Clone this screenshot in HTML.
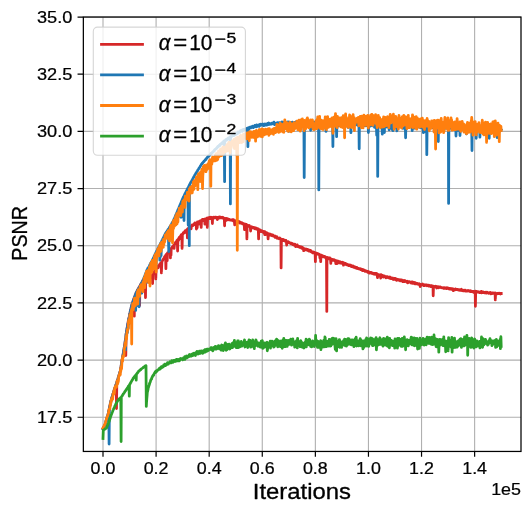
<!DOCTYPE html>
<html><head><meta charset="utf-8"><title>PSNR vs Iterations</title>
<style>html,body{margin:0;padding:0;background:#fff;}svg{will-change:transform;opacity:0.999;}body{width:532px;height:515px;overflow:hidden;font-family:"Liberation Sans",sans-serif;}svg text{font-family:"Liberation Sans",sans-serif;fill:#000;stroke:#000;stroke-width:0.3px;stroke-linejoin:round;}svg text.tk{stroke-width:0.22px;}</style></head>
<body>
<svg width="532" height="515" viewBox="0 0 532 515" style="display:block;font-family:'Liberation Sans',sans-serif">
<rect x="0" y="0" width="532" height="515" fill="#fff"/>
<path d="M103.00 17.05 V451.45 M156.09 17.05 V451.45 M209.18 17.05 V451.45 M262.27 17.05 V451.45 M315.36 17.05 V451.45 M368.45 17.05 V451.45 M421.54 17.05 V451.45 M474.63 17.05 V451.45 M83.35 417.24 H521.0 M83.35 360.07 H521.0 M83.35 302.90 H521.0 M83.35 245.73 H521.0 M83.35 188.56 H521.0 M83.35 131.39 H521.0 M83.35 74.22 H521.0 M83.35 17.05 H521.0" stroke="#b0b0b0" stroke-width="1.11" fill="none"/>
<clipPath id="c"><rect x="83.35" y="17.05" width="437.65" height="434.4"/></clipPath>
<g clip-path="url(#c)">
<polyline points="103.0,428.7 103.3,428.1 103.5,427.6 103.8,427.1 104.1,426.6 104.3,426.0 104.6,425.5 104.9,425.0 105.1,424.5 105.4,423.8 105.7,422.7 105.9,421.7 106.2,420.7 106.5,419.8 106.7,418.9 107.0,418.1 107.2,417.2 107.5,416.3 107.8,415.5 108.0,414.5 108.3,413.4 108.6,412.1 108.8,410.8 109.1,409.6 109.4,408.4 109.6,407.1 109.9,405.8 110.2,404.5 110.4,403.3 110.7,402.1 111.0,400.9 111.2,400.1 111.5,399.2 111.8,398.3 112.0,397.3 112.3,396.5 112.6,395.5 112.8,394.6 113.1,393.7 113.4,392.9 113.6,392.0 113.9,391.2 114.1,390.4 114.4,389.5 114.7,388.8 114.9,387.9 115.2,387.3 115.5,386.4 115.7,385.6 116.0,384.7 116.3,384.0 116.5,408.6 116.8,382.6 117.1,381.5 117.3,380.8 117.6,380.1 117.9,379.1 118.1,378.4 118.4,377.2 118.7,376.5 118.9,375.7 119.2,374.6 119.5,373.6 119.7,373.1 120.0,371.9 120.3,371.1 120.5,369.6 120.8,368.0 121.1,366.4 121.3,364.9 121.6,363.1 121.8,361.8 122.1,360.1 122.4,358.5 122.6,357.2 122.9,355.2 123.2,353.9 123.4,352.2 123.7,350.9 124.0,349.4 124.2,347.9 124.5,346.3 124.8,344.6 125.0,343.1 125.3,340.6 125.6,338.4 125.8,355.5 126.1,334.4 126.4,332.4 126.6,331.0 126.9,329.4 127.2,327.5 127.4,326.2 127.7,324.5 128.0,322.9 128.2,321.3 128.5,320.5 128.7,319.0 129.0,317.9 129.3,316.6 129.5,314.7 129.8,313.8 130.1,312.8 130.3,311.4 130.6,309.9 130.9,309.0 131.1,309.0 131.4,306.6 131.7,305.6 131.9,304.9 132.2,303.9 132.5,302.8 132.7,302.5 133.0,301.2 133.3,300.8 133.5,299.6 133.8,298.8 134.1,298.2 134.3,316.2 134.6,296.8 134.9,296.4 135.1,295.4 135.4,294.7 135.7,294.1 135.9,293.3 136.2,293.1 136.4,292.4 136.7,291.8 137.0,291.5 137.2,291.1 137.5,290.1 137.8,289.8 138.0,289.5 138.3,289.2 138.6,288.1 138.8,288.2 139.1,287.2 139.4,286.8 139.6,305.6 139.9,285.9 140.2,285.3 140.4,285.1 140.7,284.7 141.0,283.8 141.2,285.1 141.5,283.2 141.8,283.1 142.0,282.4 142.3,285.4 142.6,281.0 142.8,286.5 143.1,280.0 143.3,280.1 143.6,280.1 143.9,280.3 144.1,284.4 144.4,280.9 144.7,280.7 144.9,281.2 145.2,281.7 145.5,297.6 145.7,281.4 146.0,281.4 146.3,282.0 146.5,282.1 146.8,282.2 147.1,282.1 147.3,281.9 147.6,281.7 147.9,281.0 148.1,281.0 148.4,280.4 148.7,279.6 148.9,280.0 149.2,279.7 149.5,279.0 149.7,278.3 150.0,277.8 150.3,277.5 150.5,277.3 150.8,276.6 151.0,276.9 151.3,275.9 151.6,275.7 151.8,275.4 152.1,275.4 152.4,275.0 152.6,283.5 152.9,274.3 153.2,273.4 153.4,273.3 153.7,272.6 154.0,272.5 154.2,271.7 154.5,271.5 154.8,270.9 155.0,271.5 155.3,273.7 155.6,269.3 155.8,278.9 156.1,268.6 156.4,268.4 156.6,268.0 156.9,267.8 157.2,267.5 157.4,267.2 157.7,266.4 157.9,266.2 158.2,267.8 158.5,266.4 158.7,265.9 159.0,265.6 159.3,265.3 159.5,264.5 159.8,264.1 160.1,264.1 160.3,263.7 160.6,263.0 160.9,263.5 161.1,262.6 161.4,272.9 161.7,265.8 161.9,261.6 162.2,261.1 162.5,260.5 162.7,260.4 163.0,259.5 163.3,259.4 163.5,258.8 163.8,258.4 164.1,258.1 164.3,257.8 164.6,256.7 164.8,256.6 165.1,256.8 165.4,256.3 165.6,255.3 165.9,268.6 166.2,254.7 166.4,254.2 166.7,254.2 167.0,256.2 167.2,260.7 167.5,252.9 167.8,253.3 168.0,252.8 168.3,252.9 168.6,252.0 168.8,251.3 169.1,251.8 169.4,251.1 169.6,250.7 169.9,250.6 170.2,250.7 170.4,257.9 170.7,249.3 171.0,255.2 171.2,248.4 171.5,248.7 171.8,248.0 172.0,248.1 172.3,246.9 172.5,247.5 172.8,246.7 173.1,246.5 173.3,246.0 173.6,245.3 173.9,245.4 174.1,248.3 174.4,244.3 174.7,244.1 174.9,244.0 175.2,243.6 175.5,242.4 175.7,242.4 176.0,242.2 176.3,242.5 176.5,243.7 176.8,240.7 177.1,240.3 177.3,240.0 177.6,251.0 177.9,240.1 178.1,241.3 178.4,239.0 178.7,240.1 178.9,238.6 179.2,237.4 179.4,237.4 179.7,237.0 180.0,237.1 180.2,236.6 180.5,236.0 180.8,238.6 181.0,235.4 181.3,234.7 181.6,234.8 181.8,234.6 182.1,248.4 182.4,234.2 182.6,233.9 182.9,233.9 183.2,233.1 183.4,232.6 183.7,232.5 184.0,232.3 184.2,232.2 184.5,232.3 184.8,232.7 185.0,231.0 185.3,231.1 185.6,230.9 185.8,230.8 186.1,230.5 186.4,230.2 186.6,229.9 186.9,229.8 187.1,229.4 187.4,237.9 187.7,228.9 187.9,228.6 188.2,229.2 188.5,228.4 188.7,228.0 189.0,227.5 189.3,228.6 189.5,227.8 189.8,227.2 190.1,227.7 190.3,227.1 190.6,226.7 190.9,226.9 191.1,228.9 191.4,226.6 191.7,225.5 191.9,226.0 192.2,225.0 192.5,225.8 192.7,225.0 193.0,225.6 193.3,224.8 193.5,225.0 193.8,224.3 194.0,224.0 194.3,224.5 194.6,223.5 194.8,223.0 195.1,223.2 195.4,223.9 195.6,223.2 195.9,223.6 196.2,223.1 196.4,229.0 196.7,222.7 197.0,223.1 197.2,227.8 197.5,221.8 197.8,222.2 198.0,222.1 198.3,222.1 198.6,222.0 198.8,221.7 199.1,224.0 199.4,222.1 199.6,221.4 199.9,221.0 200.2,221.2 200.4,220.8 200.7,220.8 201.0,221.3 201.2,227.4 201.5,221.1 201.7,220.0 202.0,219.7 202.3,220.3 202.5,219.4 202.8,220.7 203.1,220.2 203.3,219.7 203.6,219.4 203.9,220.0 204.1,219.9 204.4,219.3 204.7,219.8 204.9,224.2 205.2,221.5 205.5,218.8 205.7,218.9 206.0,218.8 206.3,218.6 206.5,219.6 206.8,218.2 207.1,218.7 207.3,227.4 207.6,218.9 207.9,219.0 208.1,217.9 208.4,218.9 208.6,218.3 208.9,218.5 209.2,218.6 209.4,217.4 209.7,218.5 210.0,217.9 210.2,218.7 210.5,217.5 210.8,217.7 211.0,217.2 211.3,218.2 211.6,217.4 211.8,217.5 212.1,217.9 212.4,223.5 212.6,217.9 212.9,218.3 213.2,217.4 213.4,217.3 213.7,218.1 214.0,217.8 214.2,217.6 214.5,217.5 214.8,217.1 215.0,217.8 215.3,217.5 215.6,217.9 215.8,217.2 216.1,217.6 216.3,217.7 216.6,217.3 216.9,217.3 217.1,217.3 217.4,219.5 217.7,217.8 217.9,217.3 218.2,217.2 218.5,218.0 218.7,217.5 219.0,217.4 219.3,217.4 219.5,218.0 219.8,216.8 220.1,217.4 220.3,217.7 220.6,217.2 220.9,217.4 221.1,217.7 221.4,217.5 221.7,217.5 221.9,217.7 222.2,217.3 222.5,218.0 222.7,217.4 223.0,218.0 223.2,217.8 223.5,218.3 223.8,218.0 224.0,218.4 224.3,218.6 224.6,225.8 224.8,218.6 225.1,218.9 225.4,218.5 225.6,219.1 225.9,220.6 226.2,218.5 226.4,219.1 226.7,218.8 227.0,218.8 227.2,219.3 227.5,218.8 227.8,219.4 228.0,219.9 228.3,219.0 228.6,219.4 228.8,219.3 229.1,219.6 229.4,219.5 229.6,219.8 229.9,219.7 230.2,220.1 230.4,220.1 230.7,220.1 230.9,220.1 231.2,219.9 231.5,220.1 231.7,220.2 232.0,220.4 232.3,220.1 232.5,219.6 232.8,220.3 233.1,220.8 233.3,220.4 233.6,219.8 233.9,220.8 234.1,220.8 234.4,221.4 234.7,224.8 234.9,221.5 235.2,221.0 235.5,221.7 235.7,224.2 236.0,220.6 236.3,221.0 236.5,221.3 236.8,223.3 237.1,221.3 237.3,221.7 237.6,221.5 237.8,222.1 238.1,221.4 238.4,221.3 238.6,221.8 238.9,222.4 239.2,221.6 239.4,221.7 239.7,221.9 240.0,223.1 240.2,222.4 240.5,222.9 240.8,222.8 241.0,222.8 241.3,222.7 241.6,222.6 241.8,223.1 242.1,223.7 242.4,223.3 242.6,223.7 242.9,223.3 243.2,224.0 243.4,224.0 243.7,224.0 244.0,224.4 244.2,224.3 244.5,229.6 244.8,224.1 245.0,224.8 245.3,225.2 245.5,224.9 245.8,224.2 246.1,225.1 246.3,224.4 246.6,224.6 246.9,238.9 247.1,224.8 247.4,225.3 247.7,225.2 247.9,225.5 248.2,226.1 248.5,226.1 248.7,226.4 249.0,225.7 249.3,225.4 249.5,226.4 249.8,226.3 250.1,226.8 250.3,226.7 250.6,231.0 250.9,227.0 251.1,227.4 251.4,227.0 251.7,226.7 251.9,227.8 252.2,227.5 252.4,227.5 252.7,227.8 253.0,227.7 253.2,227.7 253.5,227.5 253.8,228.0 254.0,227.5 254.3,227.6 254.6,228.6 254.8,227.7 255.1,228.1 255.4,228.4 255.6,228.9 255.9,228.6 256.2,228.7 256.4,228.1 256.7,229.0 257.0,228.4 257.2,228.6 257.5,229.6 257.8,229.2 258.0,230.0 258.3,228.8 258.6,238.9 258.8,229.4 259.1,230.1 259.4,229.9 259.6,229.8 259.9,229.8 260.1,230.0 260.4,230.4 260.7,230.8 260.9,230.9 261.2,231.6 261.5,230.7 261.7,231.2 262.0,231.2 262.3,230.9 262.5,231.3 262.8,231.9 263.1,232.4 263.3,231.7 263.6,232.5 263.9,231.8 264.1,232.0 264.4,231.8 264.7,234.6 264.9,231.7 265.2,231.9 265.5,232.4 265.7,232.9 266.0,234.5 266.3,232.5 266.5,232.8 266.8,233.7 267.0,232.8 267.3,233.5 267.6,233.3 267.8,234.0 268.1,238.9 268.4,234.1 268.6,233.7 268.9,234.0 269.2,233.9 269.4,235.1 269.7,234.2 270.0,234.6 270.2,234.6 270.5,234.1 270.8,235.1 271.0,235.2 271.3,234.7 271.6,235.0 271.8,235.7 272.1,235.0 272.4,235.8 272.6,234.9 272.9,235.7 273.2,235.6 273.4,236.0 273.7,235.8 273.9,236.2 274.2,235.9 274.5,236.1 274.7,236.4 275.0,237.2 275.3,236.2 275.5,236.9 275.8,237.1 276.1,236.8 276.3,237.5 276.6,237.0 276.9,236.8 277.1,238.2 277.4,237.8 277.7,238.2 277.9,238.0 278.2,238.2 278.5,238.4 278.7,238.5 279.0,238.8 279.3,238.3 279.5,238.6 279.8,238.0 280.1,238.5 280.3,238.7 280.6,239.1 280.9,239.0 281.1,267.9 281.4,239.5 281.6,239.2 281.9,239.7 282.2,239.4 282.4,240.2 282.7,239.5 283.0,239.8 283.2,239.5 283.5,240.5 283.8,240.1 284.0,240.4 284.3,239.9 284.6,240.9 284.8,240.7 285.1,240.4 285.4,240.5 285.6,241.5 285.9,240.4 286.2,241.5 286.4,241.9 286.7,245.1 287.0,242.4 287.2,242.2 287.5,241.9 287.8,241.8 288.0,242.5 288.3,241.7 288.5,242.4 288.8,242.3 289.1,242.4 289.3,242.7 289.6,242.6 289.9,242.9 290.1,243.2 290.4,243.0 290.7,243.5 290.9,243.7 291.2,243.4 291.5,243.1 291.7,243.5 292.0,243.5 292.3,243.6 292.5,244.4 292.8,244.6 293.1,244.6 293.3,244.0 293.6,244.3 293.9,244.4 294.1,245.1 294.4,244.4 294.7,244.1 294.9,245.5 295.2,245.3 295.5,245.6 295.7,246.7 296.0,245.2 296.2,246.2 296.5,246.0 296.8,246.3 297.0,245.7 297.3,244.9 297.6,246.6 297.8,246.2 298.1,246.2 298.4,246.5 298.6,246.2 298.9,246.6 299.2,247.2 299.4,246.5 299.7,246.8 300.0,246.6 300.2,247.4 300.5,247.0 300.8,247.4 301.0,246.9 301.3,248.0 301.6,247.1 301.8,247.9 302.1,248.3 302.4,247.4 302.6,247.5 302.9,248.3 303.1,248.4 303.4,248.9 303.7,250.7 303.9,250.4 304.2,249.2 304.5,248.6 304.7,249.2 305.0,248.9 305.3,249.8 305.5,249.7 305.8,249.5 306.1,249.3 306.3,249.9 306.6,249.3 306.9,249.8 307.1,250.2 307.4,249.8 307.7,249.4 307.9,249.9 308.2,250.0 308.5,250.8 308.7,251.0 309.0,250.5 309.3,250.8 309.5,250.1 309.8,251.0 310.1,250.8 310.3,251.0 310.6,251.5 310.8,250.6 311.1,251.5 311.4,251.7 311.6,251.4 311.9,252.4 312.2,252.3 312.4,252.2 312.7,251.9 313.0,253.0 313.2,252.1 313.5,252.0 313.8,252.5 314.0,252.4 314.3,252.5 314.6,252.9 314.8,252.7 315.1,252.8 315.4,261.7 315.6,253.8 315.9,253.0 316.2,253.6 316.4,253.5 316.7,253.2 317.0,253.3 317.2,253.9 317.5,254.0 317.7,253.7 318.0,253.7 318.3,254.4 318.5,254.1 318.8,254.6 319.1,254.5 319.3,254.3 319.6,254.5 319.9,257.9 320.1,255.2 320.4,255.2 320.7,261.7 320.9,255.8 321.2,257.2 321.5,255.2 321.7,255.4 322.0,255.6 322.3,255.8 322.5,255.9 322.8,256.3 323.1,256.9 323.3,256.1 323.6,256.2 323.9,256.6 324.1,256.5 324.4,257.0 324.7,257.2 324.9,256.6 325.2,256.6 325.4,257.2 325.7,257.1 326.0,258.4 326.2,257.4 326.5,259.9 326.8,311.4 327.0,258.4 327.3,257.5 327.6,258.9 327.8,258.3 328.1,257.8 328.4,258.6 328.6,257.9 328.9,258.8 329.2,258.4 329.4,258.8 329.7,257.9 330.0,259.0 330.2,258.7 330.5,258.5 330.8,263.4 331.0,259.4 331.3,259.7 331.6,259.4 331.8,259.4 332.1,259.3 332.3,259.8 332.6,260.2 332.9,259.9 333.1,259.6 333.4,260.2 333.7,260.4 333.9,259.8 334.2,260.5 334.5,260.6 334.7,260.0 335.0,260.8 335.3,261.1 335.5,261.0 335.8,263.5 336.1,261.1 336.3,260.7 336.6,261.2 336.9,262.1 337.1,263.7 337.4,261.2 337.7,261.5 337.9,261.1 338.2,261.8 338.5,262.7 338.7,261.7 339.0,262.9 339.3,262.3 339.5,261.6 339.8,262.0 340.0,262.2 340.3,263.2 340.6,262.0 340.8,262.1 341.1,262.1 341.4,262.7 341.6,263.1 341.9,263.3 342.2,262.4 342.4,262.2 342.7,262.6 343.0,263.2 343.2,263.1 343.5,265.2 343.8,263.0 344.0,263.9 344.3,263.8 344.6,263.5 344.8,263.2 345.1,263.5 345.4,264.0 345.6,264.3 345.9,264.6 346.2,263.7 346.4,263.9 346.7,264.5 346.9,264.2 347.2,264.9 347.5,264.6 347.7,264.9 348.0,265.1 348.3,264.8 348.5,265.6 348.8,265.0 349.1,265.2 349.3,265.0 349.6,265.2 349.9,265.4 350.1,265.7 350.4,265.1 350.7,265.8 350.9,266.1 351.2,266.5 351.5,265.5 351.7,265.9 352.0,266.6 352.3,266.3 352.5,266.6 352.8,266.5 353.1,266.0 353.3,266.3 353.6,267.2 353.9,267.0 354.1,266.5 354.4,266.8 354.6,266.9 354.9,266.9 355.2,267.7 355.4,267.6 355.7,267.3 356.0,267.7 356.2,267.5 356.5,268.2 356.8,267.9 357.0,267.5 357.3,268.1 357.6,268.6 357.8,268.6 358.1,268.2 358.4,268.7 358.6,268.4 358.9,268.9 359.2,268.6 359.4,268.7 359.7,268.7 360.0,268.8 360.2,268.7 360.5,269.5 360.8,268.9 361.0,268.9 361.3,269.4 361.5,269.6 361.8,269.5 362.1,270.4 362.3,269.7 362.6,270.5 362.9,269.8 363.1,270.3 363.4,270.5 363.7,269.8 363.9,270.7 364.2,270.2 364.5,270.2 364.7,270.4 365.0,271.2 365.3,271.1 365.5,271.1 365.8,270.9 366.1,271.4 366.3,271.3 366.6,271.1 366.9,271.2 367.1,271.3 367.4,271.4 367.7,272.3 367.9,271.6 368.2,272.1 368.4,271.7 368.7,271.7 369.0,272.4 369.2,272.4 369.5,273.1 369.8,272.4 370.0,272.8 370.3,272.7 370.6,272.9 370.8,272.4 371.1,272.3 371.4,273.0 371.6,273.4 371.9,272.9 372.2,273.3 372.4,273.3 372.7,273.1 373.0,273.2 373.2,273.8 373.5,273.5 373.8,274.0 374.0,273.5 374.3,273.7 374.6,273.4 374.8,273.4 375.1,274.4 375.4,273.4 375.6,274.1 375.9,273.9 376.1,274.2 376.4,274.3 376.7,273.5 376.9,274.0 377.2,275.0 377.5,277.6 377.7,274.1 378.0,274.6 378.3,275.0 378.5,274.8 378.8,275.2 379.1,275.2 379.3,275.3 379.6,275.8 379.9,275.0 380.1,274.7 380.4,275.8 380.7,278.0 380.9,275.2 381.2,274.7 381.5,275.4 381.7,275.9 382.0,275.4 382.3,275.5 382.5,276.0 382.8,275.4 383.0,276.1 383.3,277.2 383.6,276.0 383.8,276.2 384.1,276.1 384.4,276.0 384.6,276.9 384.9,277.0 385.2,276.4 385.4,276.7 385.7,276.7 386.0,277.8 386.2,277.2 386.5,276.6 386.8,276.6 387.0,277.2 387.3,276.7 387.6,277.3 387.8,277.6 388.1,277.4 388.4,277.9 388.6,277.8 388.9,277.3 389.2,277.8 389.4,277.1 389.7,277.3 390.0,278.3 390.2,277.2 390.5,277.7 390.7,278.5 391.0,277.8 391.3,278.6 391.5,278.2 391.8,278.5 392.1,278.6 392.3,278.7 392.6,278.4 392.9,278.0 393.1,279.3 393.4,278.9 393.7,278.4 393.9,279.5 394.2,278.9 394.5,278.4 394.7,279.3 395.0,278.3 395.3,279.0 395.5,279.6 395.8,278.8 396.1,279.6 396.3,279.1 396.6,280.4 396.9,279.6 397.1,279.2 397.4,279.5 397.6,279.8 397.9,279.4 398.2,280.0 398.4,279.6 398.7,279.8 399.0,279.7 399.2,280.2 399.5,279.9 399.8,279.9 400.0,280.8 400.3,280.0 400.6,280.8 400.8,279.9 401.1,280.4 401.4,280.4 401.6,280.5 401.9,279.9 402.2,281.3 402.4,280.4 402.7,280.9 403.0,281.6 403.2,281.2 403.5,280.9 403.8,280.8 404.0,280.5 404.3,281.6 404.6,281.6 404.8,281.1 405.1,280.7 405.3,281.1 405.6,281.4 405.9,281.1 406.1,281.3 406.4,281.5 406.7,282.1 406.9,281.6 407.2,281.3 407.5,281.8 407.7,282.9 408.0,281.9 408.3,282.0 408.5,281.8 408.8,282.2 409.1,281.6 409.3,282.1 409.6,282.2 409.9,281.9 410.1,282.1 410.4,282.4 410.7,282.3 410.9,282.1 411.2,283.2 411.5,282.0 411.7,282.9 412.0,282.8 412.2,282.6 412.5,283.2 412.8,282.0 413.0,282.7 413.3,282.8 413.6,283.2 413.8,282.7 414.1,283.4 414.4,282.5 414.6,283.0 414.9,283.7 415.2,283.3 415.4,282.7 415.7,283.3 416.0,283.7 416.2,283.5 416.5,283.9 416.8,283.4 417.0,283.4 417.3,283.3 417.6,283.8 417.8,283.9 418.1,284.4 418.4,283.8 418.6,283.8 418.9,284.3 419.2,283.7 419.4,283.9 419.7,284.3 419.9,284.3 420.2,286.6 420.5,284.4 420.7,284.4 421.0,284.8 421.3,285.0 421.5,285.1 421.8,284.4 422.1,284.9 422.3,284.2 422.6,283.9 422.9,284.8 423.1,284.9 423.4,285.5 423.7,285.1 423.9,284.8 424.2,284.9 424.5,285.6 424.7,285.1 425.0,284.8 425.3,284.9 425.5,285.3 425.8,285.2 426.1,284.9 426.3,285.4 426.6,285.5 426.8,285.0 427.1,285.8 427.4,285.4 427.6,285.3 427.9,285.1 428.2,285.3 428.4,285.3 428.7,286.0 429.0,285.2 429.2,285.7 429.5,286.0 429.8,285.8 430.0,286.1 430.3,285.6 430.6,286.0 430.8,286.6 431.1,285.6 431.4,286.1 431.6,286.1 431.9,285.8 432.2,286.7 432.4,286.2 432.7,286.3 433.0,286.3 433.2,295.8 433.5,286.1 433.8,286.5 434.0,286.6 434.3,286.8 434.5,286.6 434.8,286.5 435.1,286.7 435.3,286.7 435.6,287.0 435.9,286.3 436.1,286.9 436.4,287.2 436.7,288.0 436.9,286.6 437.2,286.6 437.5,286.9 437.7,287.4 438.0,287.6 438.3,286.8 438.5,286.8 438.8,287.7 439.1,287.0 439.3,287.2 439.6,287.3 439.9,287.4 440.1,287.0 440.4,286.9 440.7,287.2 440.9,287.6 441.2,287.6 441.4,287.8 441.7,287.7 442.0,287.7 442.2,287.6 442.5,287.8 442.8,287.9 443.0,288.0 443.3,288.0 443.6,288.4 443.8,287.7 444.1,287.8 444.4,288.2 444.6,287.9 444.9,287.9 445.2,288.4 445.4,288.1 445.7,288.2 446.0,288.2 446.2,287.8 446.5,288.6 446.8,288.1 447.0,288.2 447.3,287.8 447.6,288.4 447.8,288.0 448.1,288.4 448.4,288.1 448.6,288.9 448.9,288.2 449.1,288.5 449.4,288.9 449.7,289.1 449.9,288.4 450.2,288.5 450.5,288.7 450.7,288.7 451.0,288.8 451.3,289.4 451.5,288.6 451.8,288.8 452.1,288.7 452.3,289.2 452.6,289.1 452.9,288.8 453.1,288.8 453.4,290.7 453.7,289.2 453.9,289.6 454.2,289.5 454.5,289.3 454.7,289.6 455.0,289.1 455.3,289.8 455.5,289.0 455.8,289.4 456.0,289.1 456.3,289.7 456.6,289.7 456.8,289.4 457.1,289.7 457.4,289.6 457.6,289.4 457.9,289.3 458.2,290.0 458.4,290.1 458.7,290.1 459.0,289.9 459.2,289.9 459.5,289.7 459.8,290.3 460.0,290.1 460.3,290.2 460.6,290.3 460.8,290.4 461.1,290.0 461.4,289.3 461.6,290.1 461.9,290.6 462.2,290.3 462.4,290.6 462.7,290.2 463.0,290.7 463.2,290.6 463.5,290.3 463.7,290.8 464.0,290.7 464.3,290.9 464.5,290.5 464.8,290.1 465.1,290.7 465.3,290.2 465.6,291.0 465.9,290.4 466.1,291.1 466.4,291.2 466.7,290.8 466.9,290.8 467.2,291.0 467.5,290.8 467.7,290.6 468.0,290.4 468.3,290.9 468.5,290.7 468.8,290.7 469.1,290.7 469.3,290.9 469.6,291.3 469.9,291.3 470.1,291.0 470.4,290.8 470.6,291.5 470.9,291.0 471.2,291.6 471.4,291.2 471.7,291.1 472.0,291.6 472.2,291.6 472.5,291.7 472.8,291.5 473.0,291.6 473.3,292.2 473.6,291.4 473.8,291.7 474.1,291.8 474.4,292.1 474.6,291.9 474.9,292.0 475.2,291.5 475.4,306.3 475.7,291.1 476.0,291.5 476.2,291.6 476.5,292.2 476.8,291.5 477.0,291.7 477.3,291.8 477.5,291.8 477.8,291.7 478.1,292.1 478.3,291.8 478.6,292.1 478.9,292.3 479.1,292.1 479.4,292.6 479.7,292.2 479.9,291.9 480.2,292.6 480.5,292.0 480.7,291.9 481.0,292.3 481.3,291.4 481.5,292.9 481.8,292.0 482.1,292.3 482.3,292.2 482.6,292.0 482.9,292.6 483.1,292.3 483.4,292.0 483.7,292.6 483.9,292.2 484.2,292.3 484.5,292.8 484.7,292.5 485.0,292.7 485.2,292.9 485.5,292.5 485.8,292.1 486.0,293.0 486.3,292.8 486.6,292.4 486.8,293.0 487.1,292.3 487.4,292.5 487.6,292.4 487.9,292.9 488.2,292.8 488.4,293.1 488.7,293.3 489.0,293.0 489.2,293.0 489.5,292.7 489.8,292.7 490.0,292.4 490.3,292.4 490.6,293.0 490.8,293.8 491.1,293.3 491.4,293.3 491.6,293.1 491.9,292.9 492.1,293.1 492.4,293.5 492.7,293.1 492.9,292.9 493.2,293.4 493.5,293.0 493.7,293.2 494.0,293.1 494.3,293.3 494.5,293.3 494.8,293.6 495.1,293.0 495.3,299.9 495.6,293.2 495.9,293.8 496.1,293.2 496.4,293.6 496.7,293.7 496.9,293.9 497.2,293.6 497.5,293.4 497.7,293.3 498.0,293.2 498.3,293.4 498.5,293.4 498.8,293.6 499.1,293.5 499.3,293.7 499.6,293.7 499.8,293.3 500.1,293.8 500.4,294.1 500.6,293.6 500.9,293.5 501.2,293.5" fill="none" stroke="#d62728" stroke-width="2.78" stroke-linejoin="round" stroke-linecap="square"/>
<polyline points="103.0,428.7 103.3,428.1 103.5,427.6 103.8,427.1 104.1,426.6 104.3,426.0 104.6,425.5 104.9,425.0 105.1,424.5 105.4,423.8 105.7,422.7 105.9,421.7 106.2,420.6 106.5,419.8 106.7,418.9 107.0,418.1 107.2,417.2 107.5,416.4 107.8,415.5 108.0,414.6 108.3,413.3 108.6,412.1 108.8,410.8 109.1,444.0 109.4,408.3 109.6,407.0 109.9,405.8 110.2,404.5 110.4,403.3 110.7,402.0 111.0,401.0 111.2,400.1 111.5,399.2 111.8,398.3 112.0,397.3 112.3,396.4 112.6,395.5 112.8,394.6 113.1,393.7 113.4,392.9 113.6,392.1 113.9,391.3 114.1,390.4 114.4,389.6 114.7,388.8 114.9,388.0 115.2,387.2 115.5,386.4 115.7,385.6 116.0,384.8 116.3,384.0 116.5,383.2 116.8,382.4 117.1,381.6 117.3,380.8 117.6,382.9 117.9,379.2 118.1,378.3 118.4,377.4 118.7,376.5 118.9,375.6 119.2,374.7 119.5,373.8 119.7,372.9 120.0,372.0 120.3,371.1 120.5,369.6 120.8,368.0 121.1,366.4 121.3,364.9 121.6,363.3 121.8,361.7 122.1,360.2 122.4,358.6 122.6,357.0 122.9,355.5 123.2,353.9 123.4,352.4 123.7,350.8 124.0,349.3 124.2,347.7 124.5,346.2 124.8,344.7 125.0,342.9 125.3,340.7 125.6,349.8 125.8,336.4 126.1,334.2 126.4,332.5 126.6,330.9 126.9,329.3 127.2,327.7 127.4,332.7 127.7,324.5 128.0,322.9 128.2,328.2 128.5,320.2 128.7,319.0 129.0,317.7 129.3,323.6 129.5,315.1 129.8,313.8 130.1,312.6 130.3,311.4 130.6,310.2 130.9,309.0 131.1,307.8 131.4,306.6 131.7,305.5 131.9,304.7 132.2,303.9 132.5,303.1 132.7,302.3 133.0,301.5 133.3,300.7 133.5,299.8 133.8,300.7 134.1,299.9 134.3,297.6 134.6,296.9 134.9,304.8 135.1,295.5 135.4,294.8 135.7,310.4 135.9,293.4 136.2,292.7 136.4,306.1 136.7,291.7 137.0,292.8 137.2,293.0 137.5,290.3 137.8,289.8 138.0,289.4 138.3,288.9 138.6,288.4 138.8,288.0 139.1,306.8 139.4,287.0 139.6,295.9 139.9,288.1 140.2,288.5 140.4,285.1 140.7,284.6 141.0,284.1 141.2,283.6 141.5,283.2 141.8,293.2 142.0,282.2 142.3,281.7 142.6,281.2 142.8,280.7 143.1,280.9 143.3,279.6 143.6,288.0 143.9,278.2 144.1,277.5 144.4,276.8 144.7,287.4 144.9,275.4 145.2,279.5 145.5,274.0 145.7,273.3 146.0,272.6 146.3,282.6 146.5,271.2 146.8,270.4 147.1,269.7 147.3,274.1 147.6,268.8 147.9,268.3 148.1,267.9 148.4,267.4 148.7,279.2 148.9,274.4 149.2,274.2 149.5,265.5 149.7,265.0 150.0,264.6 150.3,264.1 150.5,263.6 150.8,263.2 151.0,262.7 151.3,262.2 151.6,261.8 151.8,261.3 152.1,260.7 152.4,260.2 152.6,259.6 152.9,259.0 153.2,258.5 153.4,257.9 153.7,258.4 154.0,256.8 154.2,256.2 154.5,255.6 154.8,262.2 155.0,254.5 155.3,266.1 155.6,253.4 155.8,252.8 156.1,266.9 156.4,251.7 156.6,251.2 156.9,250.6 157.2,250.1 157.4,249.6 157.7,249.1 157.9,248.6 158.2,248.0 158.5,247.5 158.7,247.0 159.0,246.5 159.3,245.9 159.5,245.4 159.8,260.1 160.1,244.4 160.3,257.0 160.6,243.3 160.9,242.8 161.1,255.6 161.4,245.7 161.7,241.2 161.9,240.7 162.2,240.1 162.5,239.6 162.7,239.1 163.0,238.5 163.3,238.0 163.5,237.5 163.8,236.9 164.1,236.4 164.3,235.8 164.6,235.3 164.8,234.8 165.1,234.2 165.4,233.7 165.6,233.2 165.9,232.8 166.2,232.4 166.4,232.0 166.7,232.1 167.0,231.2 167.2,231.9 167.5,230.4 167.8,230.0 168.0,229.6 168.3,229.2 168.6,244.5 168.8,251.6 169.1,228.0 169.4,227.6 169.6,227.2 169.9,226.8 170.2,226.4 170.4,225.9 170.7,225.5 171.0,225.0 171.2,239.0 171.5,224.1 171.8,223.7 172.0,223.2 172.3,222.8 172.5,222.3 172.8,221.9 173.1,221.4 173.3,220.8 173.6,220.2 173.9,219.5 174.1,218.9 174.4,218.3 174.7,217.6 174.9,224.8 175.2,216.4 175.5,215.8 175.7,215.1 176.0,214.5 176.3,213.9 176.5,214.0 176.8,212.6 177.1,212.0 177.3,213.7 177.6,210.7 177.9,210.1 178.1,209.5 178.4,215.8 178.7,212.6 178.9,207.6 179.2,210.8 179.4,206.3 179.7,216.4 180.0,205.1 180.2,204.4 180.5,206.7 180.8,203.2 181.0,217.3 181.3,201.9 181.6,217.1 181.8,200.7 182.1,200.0 182.4,199.4 182.6,198.8 182.9,198.2 183.2,197.6 183.4,197.0 183.7,196.5 184.0,220.6 184.2,206.0 184.5,194.8 184.8,194.3 185.0,193.7 185.3,193.2 185.6,192.7 185.8,192.2 186.1,194.6 186.4,191.1 186.6,190.6 186.9,190.0 187.1,189.5 187.4,189.0 187.7,188.4 187.9,187.9 188.2,225.1 188.5,186.9 188.7,187.2 189.0,185.8 189.3,245.7 189.5,184.7 189.8,184.2 190.1,183.7 190.3,183.3 190.6,182.7 190.9,182.3 191.1,181.8 191.4,181.4 191.7,180.9 191.9,180.5 192.2,179.9 192.5,179.6 192.7,179.0 193.0,178.5 193.3,178.0 193.5,177.4 193.8,177.0 194.0,176.5 194.3,176.1 194.6,175.5 194.8,175.0 195.1,174.6 195.4,174.1 195.6,173.7 195.9,173.3 196.2,172.9 196.4,172.4 196.7,172.0 197.0,171.5 197.2,171.2 197.5,170.8 197.8,170.3 198.0,169.7 198.3,169.4 198.6,169.0 198.8,168.6 199.1,168.2 199.4,167.7 199.6,167.4 199.9,167.0 200.2,166.4 200.4,166.1 200.7,165.5 201.0,165.1 201.2,164.8 201.5,164.2 201.7,164.3 202.0,163.8 202.3,163.3 202.5,163.1 202.8,162.7 203.1,162.4 203.3,162.0 203.6,161.9 203.9,161.7 204.1,161.0 204.4,160.7 204.7,160.6 204.9,160.4 205.2,160.1 205.5,159.5 205.7,159.2 206.0,159.4 206.3,158.7 206.5,158.4 206.8,158.1 207.1,157.6 207.3,157.4 207.6,157.2 207.9,157.0 208.1,156.6 208.4,156.3 208.6,155.9 208.9,155.7 209.2,155.7 209.4,155.4 209.7,155.2 210.0,154.7 210.2,154.6 210.5,154.1 210.8,153.8 211.0,153.9 211.3,153.1 211.6,153.2 211.8,152.9 212.1,152.6 212.4,152.5 212.6,152.3 212.9,151.7 213.2,151.4 213.4,151.4 213.7,151.3 214.0,150.7 214.2,150.9 214.5,150.1 214.8,149.8 215.0,149.4 215.3,149.5 215.6,149.1 215.8,148.9 216.1,148.6 216.3,148.4 216.6,148.3 216.9,147.7 217.1,147.7 217.4,146.9 217.7,147.0 217.9,146.9 218.2,146.1 218.5,146.4 218.7,146.2 219.0,145.8 219.3,145.3 219.5,145.9 219.8,145.3 220.1,144.5 220.3,144.9 220.6,144.4 220.9,144.3 221.1,144.0 221.4,143.4 221.7,143.9 221.9,142.9 222.2,142.6 222.5,142.9 222.7,142.6 223.0,142.1 223.2,142.3 223.5,141.9 223.8,141.1 224.0,141.5 224.3,141.3 224.6,181.7 224.8,140.6 225.1,140.9 225.4,140.9 225.6,139.9 225.9,140.1 226.2,139.4 226.4,139.5 226.7,140.0 227.0,139.5 227.2,139.0 227.5,139.4 227.8,138.9 228.0,138.1 228.3,138.8 228.6,138.2 228.8,138.3 229.1,137.8 229.4,137.5 229.6,137.8 229.9,136.8 230.2,137.2 230.4,203.9 230.7,136.3 230.9,136.8 231.2,136.6 231.5,136.0 231.7,136.3 232.0,136.1 232.3,135.9 232.5,135.6 232.8,135.7 233.1,135.3 233.3,135.6 233.6,134.8 233.9,135.6 234.1,135.0 234.4,134.4 234.7,135.0 234.9,134.6 235.2,134.2 235.5,134.0 235.7,134.6 236.0,133.6 236.3,133.4 236.5,133.2 236.8,133.5 237.1,133.7 237.3,132.8 237.6,133.7 237.8,133.0 238.1,132.0 238.4,132.8 238.6,132.7 238.9,132.4 239.2,132.1 239.4,132.1 239.7,131.6 240.0,131.6 240.2,132.1 240.5,130.6 240.8,131.3 241.0,131.2 241.3,130.6 241.6,131.0 241.8,130.1 242.1,130.6 242.4,131.2 242.6,130.4 242.9,129.8 243.2,130.3 243.4,130.3 243.7,129.3 244.0,130.0 244.2,129.4 244.5,129.4 244.8,129.4 245.0,129.3 245.3,129.5 245.5,128.9 245.8,129.0 246.1,128.8 246.3,130.0 246.6,129.2 246.9,128.6 247.1,129.0 247.4,128.1 247.7,128.6 247.9,146.7 248.2,128.0 248.5,127.6 248.7,127.7 249.0,128.9 249.3,128.1 249.5,127.6 249.8,127.1 250.1,127.3 250.3,127.4 250.6,127.4 250.9,127.8 251.1,126.9 251.4,127.1 251.7,127.3 251.9,127.2 252.2,126.5 252.4,126.2 252.7,127.0 253.0,127.0 253.2,127.6 253.5,126.3 253.8,126.6 254.0,127.2 254.3,126.2 254.6,126.1 254.8,125.4 255.1,125.6 255.4,126.3 255.6,126.6 255.9,125.7 256.2,126.9 256.4,126.6 256.7,124.9 257.0,125.3 257.2,125.9 257.5,125.2 257.8,125.7 258.0,126.3 258.3,125.9 258.6,125.5 258.8,124.9 259.1,126.3 259.4,125.1 259.6,125.5 259.9,124.4 260.1,125.4 260.4,125.1 260.7,124.3 260.9,125.1 261.2,124.7 261.5,124.6 261.7,125.1 262.0,125.0 262.3,124.1 262.5,124.6 262.8,125.0 263.1,124.2 263.3,124.7 263.6,125.6 263.9,124.7 264.1,124.1 264.4,125.5 264.7,124.3 264.9,124.0 265.2,125.0 265.5,125.0 265.7,124.2 266.0,125.2 266.3,124.9 266.5,124.3 266.8,125.1 267.0,124.2 267.3,124.2 267.6,124.2 267.8,123.5 268.1,124.7 268.4,124.0 268.6,124.4 268.9,123.0 269.2,123.6 269.4,123.5 269.7,124.4 270.0,123.7 270.2,124.0 270.5,124.2 270.8,124.1 271.0,124.2 271.3,124.2 271.6,123.3 271.8,123.6 272.1,123.9 272.4,123.8 272.6,123.7 272.9,123.0 273.2,123.5 273.4,123.1 273.7,123.0 273.9,122.2 274.2,123.4 274.5,124.7 274.7,123.9 275.0,123.6 275.3,123.9 275.5,123.6 275.8,123.8 276.1,123.3 276.3,124.2 276.6,123.5 276.9,123.1 277.1,123.2 277.4,122.6 277.7,124.1 277.9,123.2 278.2,123.3 278.5,124.2 278.7,123.4 279.0,122.8 279.3,123.0 279.5,122.8 279.8,123.8 280.1,124.1 280.3,123.6 280.6,123.8 280.9,123.8 281.1,122.8 281.4,122.7 281.6,122.1 281.9,121.9 282.2,123.1 282.4,123.0 282.7,123.0 283.0,122.3 283.2,122.9 283.5,123.4 283.8,123.9 284.0,124.1 284.3,122.1 284.6,122.4 284.8,123.2 285.1,122.5 285.4,123.5 285.6,122.2 285.9,122.3 286.2,122.7 286.4,123.4 286.7,124.0 287.0,122.2 287.2,122.7 287.5,123.7 287.8,122.9 288.0,121.9 288.3,123.6 288.5,123.1 288.8,131.4 289.1,124.0 289.3,122.4 289.6,122.2 289.9,122.7 290.1,122.8 290.4,124.2 290.7,123.3 290.9,122.8 291.2,126.1 291.5,123.6 291.7,123.2 292.0,122.9 292.3,122.1 292.5,123.4 292.8,123.8 293.1,122.8 293.3,123.0 293.6,123.4 293.9,123.0 294.1,123.5 294.4,123.1 294.7,124.2 294.9,122.5 295.2,123.3 295.5,123.3 295.7,123.4 296.0,122.0 296.2,122.5 296.5,122.6 296.8,125.4 297.0,122.1 297.3,123.5 297.6,123.0 297.8,123.9 298.1,122.7 298.4,122.4 298.6,122.3 298.9,121.9 299.2,123.0 299.4,122.5 299.7,122.3 300.0,124.0 300.2,124.0 300.5,124.1 300.8,124.2 301.0,123.7 301.3,123.4 301.6,123.4 301.8,123.2 302.1,123.5 302.4,123.2 302.6,122.5 302.9,123.9 303.1,122.4 303.4,122.7 303.7,123.3 303.9,123.3 304.2,177.6 304.5,123.5 304.7,123.0 305.0,122.8 305.3,122.4 305.5,123.6 305.8,123.0 306.1,122.0 306.3,124.4 306.6,124.0 306.9,123.5 307.1,124.5 307.4,121.7 307.7,123.9 307.9,123.3 308.2,124.0 308.5,124.9 308.7,123.9 309.0,123.1 309.3,122.5 309.5,127.1 309.8,123.4 310.1,122.8 310.3,122.8 310.6,130.3 310.8,122.7 311.1,123.0 311.4,124.0 311.6,122.9 311.9,122.3 312.2,124.3 312.4,124.0 312.7,123.2 313.0,122.8 313.2,122.0 313.5,123.4 313.8,123.8 314.0,122.4 314.3,123.8 314.6,123.9 314.8,122.1 315.1,124.1 315.4,123.5 315.6,122.2 315.9,123.9 316.2,128.1 316.4,123.5 316.7,123.3 317.0,122.9 317.2,122.2 317.5,124.8 317.7,124.1 318.0,121.8 318.3,124.5 318.5,122.8 318.8,189.9 319.1,122.1 319.3,123.8 319.6,124.4 319.9,124.1 320.1,123.0 320.4,122.5 320.7,124.1 320.9,122.7 321.2,122.9 321.5,123.0 321.7,123.3 322.0,123.5 322.3,124.3 322.5,123.0 322.8,123.9 323.1,124.8 323.3,123.6 323.6,124.6 323.9,124.6 324.1,123.9 324.4,123.9 324.7,122.7 324.9,124.9 325.2,123.5 325.4,123.4 325.7,123.4 326.0,131.4 326.2,122.6 326.5,122.4 326.8,125.1 327.0,124.2 327.3,123.6 327.6,123.7 327.8,124.5 328.1,124.3 328.4,124.0 328.6,124.4 328.9,123.6 329.2,122.3 329.4,124.1 329.7,123.5 330.0,123.5 330.2,122.9 330.5,124.0 330.8,124.7 331.0,124.1 331.3,123.3 331.6,123.3 331.8,123.6 332.1,124.0 332.3,123.0 332.6,123.6 332.9,146.5 333.1,124.2 333.4,123.6 333.7,124.8 333.9,125.4 334.2,123.3 334.5,123.0 334.7,124.8 335.0,123.1 335.3,124.3 335.5,125.8 335.8,124.6 336.1,123.7 336.3,124.0 336.6,136.7 336.9,124.6 337.1,128.0 337.4,123.4 337.7,123.0 337.9,123.9 338.2,125.1 338.5,123.6 338.7,125.3 339.0,124.2 339.3,125.6 339.5,124.6 339.8,122.8 340.0,123.7 340.3,124.1 340.6,124.1 340.8,123.7 341.1,124.8 341.4,122.5 341.6,123.4 341.9,123.0 342.2,123.4 342.4,123.7 342.7,125.2 343.0,123.4 343.2,123.5 343.5,124.2 343.8,124.8 344.0,123.1 344.3,124.3 344.6,124.8 344.8,123.3 345.1,123.0 345.4,123.9 345.6,124.7 345.9,122.9 346.2,123.9 346.4,124.7 346.7,123.9 346.9,123.5 347.2,124.2 347.5,125.1 347.7,124.7 348.0,127.3 348.3,123.2 348.5,123.2 348.8,124.1 349.1,122.8 349.3,124.2 349.6,124.9 349.9,123.3 350.1,124.0 350.4,123.5 350.7,123.8 350.9,132.6 351.2,123.9 351.5,126.9 351.7,123.8 352.0,123.3 352.3,124.7 352.5,122.0 352.8,124.0 353.1,124.6 353.3,125.7 353.6,125.5 353.9,123.2 354.1,123.3 354.4,122.9 354.6,123.5 354.9,124.3 355.2,124.2 355.4,123.3 355.7,124.3 356.0,124.3 356.2,123.6 356.5,123.2 356.8,123.8 357.0,123.9 357.3,125.2 357.6,124.8 357.8,123.5 358.1,124.7 358.4,123.2 358.6,124.1 358.9,124.7 359.2,148.8 359.4,124.0 359.7,123.3 360.0,125.4 360.2,124.2 360.5,123.4 360.8,122.9 361.0,125.5 361.3,124.3 361.5,125.3 361.8,123.3 362.1,124.3 362.3,125.0 362.6,124.2 362.9,124.5 363.1,125.6 363.4,125.1 363.7,124.0 363.9,124.4 364.2,125.6 364.5,123.1 364.7,123.3 365.0,122.8 365.3,123.9 365.5,124.8 365.8,125.9 366.1,123.7 366.3,124.0 366.6,123.8 366.9,123.9 367.1,123.5 367.4,125.7 367.7,126.0 367.9,124.4 368.2,124.5 368.4,132.5 368.7,126.3 369.0,124.7 369.2,126.2 369.5,125.0 369.8,125.6 370.0,124.9 370.3,125.8 370.6,126.1 370.8,125.1 371.1,124.3 371.4,122.7 371.6,123.4 371.9,125.3 372.2,125.1 372.4,125.1 372.7,123.5 373.0,124.3 373.2,124.6 373.5,126.2 373.8,125.4 374.0,124.3 374.3,123.7 374.6,127.3 374.8,124.4 375.1,124.4 375.4,124.8 375.6,124.3 375.9,123.2 376.1,125.5 376.4,125.7 376.7,135.2 376.9,126.0 377.2,125.4 377.5,123.2 377.7,176.4 378.0,123.6 378.3,126.0 378.5,123.3 378.8,125.6 379.1,124.4 379.3,124.9 379.6,125.3 379.9,126.1 380.1,125.3 380.4,124.2 380.7,125.4 380.9,123.3 381.2,125.1 381.5,123.5 381.7,124.8 382.0,125.2 382.3,134.1 382.5,125.3 382.8,125.2 383.0,125.0 383.3,125.0 383.6,123.8 383.8,125.9 384.1,126.5 384.4,132.5 384.6,124.1 384.9,125.2 385.2,126.4 385.4,125.7 385.7,123.6 386.0,124.7 386.2,126.2 386.5,124.3 386.8,125.8 387.0,127.0 387.3,125.8 387.6,126.3 387.8,126.8 388.1,125.6 388.4,126.5 388.6,126.3 388.9,126.9 389.2,129.8 389.4,125.2 389.7,125.3 390.0,124.6 390.2,126.8 390.5,125.4 390.7,126.9 391.0,126.1 391.3,125.3 391.5,125.1 391.8,125.2 392.1,129.5 392.3,124.7 392.6,125.0 392.9,130.7 393.1,123.9 393.4,124.8 393.7,123.2 393.9,126.0 394.2,124.0 394.5,124.3 394.7,123.8 395.0,125.7 395.3,127.4 395.5,125.3 395.8,125.1 396.1,124.6 396.3,126.3 396.6,126.6 396.9,130.8 397.1,123.8 397.4,125.4 397.6,126.3 397.9,126.8 398.2,126.5 398.4,124.8 398.7,124.9 399.0,125.8 399.2,126.5 399.5,126.3 399.8,125.3 400.0,126.4 400.3,126.8 400.6,125.1 400.8,125.0 401.1,125.7 401.4,125.9 401.6,126.9 401.9,125.2 402.2,126.5 402.4,125.6 402.7,127.2 403.0,128.3 403.2,126.6 403.5,125.2 403.8,125.0 404.0,127.0 404.3,126.7 404.6,124.3 404.8,126.5 405.1,124.6 405.3,125.6 405.6,137.8 405.9,124.9 406.1,125.2 406.4,123.9 406.7,126.2 406.9,125.9 407.2,126.1 407.5,124.4 407.7,125.5 408.0,127.1 408.3,124.9 408.5,127.5 408.8,126.0 409.1,126.8 409.3,125.2 409.6,126.3 409.9,124.9 410.1,125.7 410.4,125.4 410.7,126.2 410.9,126.3 411.2,126.7 411.5,126.5 411.7,127.5 412.0,128.0 412.2,130.6 412.5,125.7 412.8,126.5 413.0,125.3 413.3,125.3 413.6,124.8 413.8,127.3 414.1,126.1 414.4,128.2 414.6,124.0 414.9,126.5 415.2,126.5 415.4,126.6 415.7,126.4 416.0,127.6 416.2,125.0 416.5,126.8 416.8,125.3 417.0,125.3 417.3,126.3 417.6,125.5 417.8,125.5 418.1,124.3 418.4,127.0 418.6,126.9 418.9,125.4 419.2,124.5 419.4,125.8 419.7,125.3 419.9,126.2 420.2,125.0 420.5,127.9 420.7,126.1 421.0,125.8 421.3,127.1 421.5,125.6 421.8,127.6 422.1,126.8 422.3,125.7 422.6,126.8 422.9,127.0 423.1,128.1 423.4,132.6 423.7,127.1 423.9,126.4 424.2,125.8 424.5,124.2 424.7,126.6 425.0,131.6 425.3,126.9 425.5,127.0 425.8,125.5 426.1,126.8 426.3,126.3 426.6,126.0 426.8,154.7 427.1,127.6 427.4,127.5 427.6,126.6 427.9,125.5 428.2,126.4 428.4,126.9 428.7,126.4 429.0,128.4 429.2,126.6 429.5,125.7 429.8,126.9 430.0,126.2 430.3,126.5 430.6,126.7 430.8,125.5 431.1,126.9 431.4,126.1 431.6,125.7 431.9,127.8 432.2,125.9 432.4,126.9 432.7,125.8 433.0,127.7 433.2,127.3 433.5,127.1 433.8,125.9 434.0,127.3 434.3,126.7 434.5,127.0 434.8,126.0 435.1,127.4 435.3,128.1 435.6,126.1 435.9,126.5 436.1,126.5 436.4,125.7 436.7,127.7 436.9,126.3 437.2,127.8 437.5,128.0 437.7,126.9 438.0,125.3 438.3,141.5 438.5,125.4 438.8,125.2 439.1,125.7 439.3,125.9 439.6,127.0 439.9,127.2 440.1,128.6 440.4,126.7 440.7,126.4 440.9,127.6 441.2,128.0 441.4,127.4 441.7,126.7 442.0,126.4 442.2,128.9 442.5,127.9 442.8,128.4 443.0,127.3 443.3,127.4 443.6,127.2 443.8,125.1 444.1,128.1 444.4,129.0 444.6,126.4 444.9,126.7 445.2,126.6 445.4,127.6 445.7,127.9 446.0,127.7 446.2,126.0 446.5,126.0 446.8,127.3 447.0,125.5 447.3,126.8 447.6,128.5 447.8,125.4 448.1,127.3 448.4,126.2 448.6,203.4 448.9,128.7 449.1,128.2 449.4,127.1 449.7,128.4 449.9,128.6 450.2,127.9 450.5,126.3 450.7,127.1 451.0,127.0 451.3,127.1 451.5,126.9 451.8,127.2 452.1,127.0 452.3,128.2 452.6,127.7 452.9,128.0 453.1,128.6 453.4,127.8 453.7,127.9 453.9,128.0 454.2,127.1 454.5,126.8 454.7,127.5 455.0,127.5 455.3,126.9 455.5,127.2 455.8,126.4 456.0,136.0 456.3,128.1 456.6,126.7 456.8,126.6 457.1,128.9 457.4,127.1 457.6,130.3 457.9,127.0 458.2,128.8 458.4,129.1 458.7,128.7 459.0,127.7 459.2,126.2 459.5,127.1 459.8,126.9 460.0,135.5 460.3,128.4 460.6,126.7 460.8,128.1 461.1,127.2 461.4,128.0 461.6,128.6 461.9,128.0 462.2,127.8 462.4,128.0 462.7,129.2 463.0,127.6 463.2,126.1 463.5,126.6 463.7,128.7 464.0,128.5 464.3,127.4 464.5,128.4 464.8,126.9 465.1,129.5 465.3,126.7 465.6,128.0 465.9,129.1 466.1,127.7 466.4,133.9 466.7,126.8 466.9,128.4 467.2,127.9 467.5,127.3 467.7,127.7 468.0,130.2 468.3,128.4 468.5,128.6 468.8,126.4 469.1,128.3 469.3,129.1 469.6,128.2 469.9,129.0 470.1,126.5 470.4,128.1 470.6,126.9 470.9,128.2 471.2,128.3 471.4,128.7 471.7,127.9 472.0,150.6 472.2,129.1 472.5,126.7 472.8,127.8 473.0,128.6 473.3,129.0 473.6,127.4 473.8,128.2 474.1,128.3 474.4,128.5 474.6,128.7 474.9,126.9 475.2,126.3 475.4,128.8 475.7,125.7 476.0,128.1 476.2,138.3 476.5,128.6 476.8,128.3 477.0,129.6 477.3,129.2 477.5,129.4 477.8,130.1 478.1,128.3 478.3,128.9 478.6,127.4 478.9,127.7 479.1,128.4 479.4,128.9 479.7,128.8 479.9,137.1 480.2,127.5 480.5,127.7 480.7,128.0 481.0,127.8 481.3,128.1 481.5,127.0 481.8,129.4 482.1,129.0 482.3,128.4 482.6,127.9 482.9,128.7 483.1,129.2 483.4,126.9 483.7,127.6 483.9,127.1 484.2,129.4 484.5,128.3 484.7,129.3 485.0,128.2 485.2,128.2 485.5,127.6 485.8,126.0 486.0,127.3 486.3,128.2 486.6,129.4 486.8,129.6 487.1,133.6 487.4,129.2 487.6,127.6 487.9,126.9 488.2,128.6 488.4,131.0 488.7,128.1 489.0,128.6 489.2,138.3 489.5,128.5 489.8,129.3 490.0,127.3 490.3,129.2 490.6,126.7 490.8,127.9 491.1,127.3 491.4,129.8 491.6,129.5 491.9,129.8 492.1,126.8 492.4,129.7 492.7,130.3 492.9,129.4 493.2,129.2 493.5,129.5 493.7,130.4 494.0,128.7 494.3,128.1 494.5,128.5 494.8,128.4 495.1,129.8 495.3,127.6 495.6,130.5 495.9,128.6 496.1,127.1 496.4,130.2 496.7,128.8 496.9,131.0 497.2,137.6 497.5,129.4 497.7,129.0 498.0,130.5 498.3,127.9 498.5,129.2 498.8,129.1 499.1,128.0 499.3,128.1 499.6,127.5 499.8,127.5 500.1,131.0 500.4,129.3 500.6,128.7 500.9,130.2 501.2,129.8" fill="none" stroke="#1f77b4" stroke-width="2.78" stroke-linejoin="round" stroke-linecap="square"/>
<polyline points="103.0,428.0 103.3,427.5 103.5,426.9 103.8,426.4 104.1,425.9 104.3,425.4 104.6,424.8 104.9,424.3 105.1,423.8 105.4,423.1 105.7,422.0 105.9,421.0 106.2,419.9 106.5,419.1 106.7,418.3 107.0,417.4 107.2,416.6 107.5,416.2 107.8,415.5 108.0,414.9 108.3,413.9 108.6,412.6 108.8,411.3 109.1,409.1 109.4,408.9 109.6,409.1 109.9,408.6 110.2,404.3 110.4,405.3 110.7,402.4 111.0,402.8 111.2,400.6 111.5,399.1 111.8,400.2 112.0,398.0 112.3,397.4 112.6,399.3 112.8,396.9 113.1,393.9 113.4,393.2 113.6,393.8 113.9,390.8 114.1,394.0 114.4,392.7 114.7,388.3 114.9,387.6 115.2,386.7 115.5,387.9 115.7,385.8 116.0,386.3 116.3,385.7 116.5,387.1 116.8,384.3 117.1,381.0 117.3,381.3 117.6,383.8 117.9,382.9 118.1,382.2 118.4,380.7 118.7,376.6 118.9,376.0 119.2,375.6 119.5,374.1 119.7,375.3 120.0,372.5 120.3,374.7 120.5,369.0 120.8,371.2 121.1,366.8 121.3,369.3 121.6,368.3 121.8,364.1 122.1,359.6 122.4,358.1 122.6,360.9 122.9,355.9 123.2,356.2 123.4,356.9 123.7,355.4 124.0,355.5 124.2,350.9 124.5,347.5 124.8,347.3 125.0,345.2 125.3,342.6 125.6,345.6 125.8,342.5 126.1,336.5 126.4,339.6 126.6,338.5 126.9,332.6 127.2,332.1 127.4,329.8 127.7,328.9 128.0,329.5 128.2,327.9 128.5,321.6 128.7,320.1 129.0,323.0 129.3,319.2 129.5,322.3 129.8,315.0 130.1,315.1 130.3,316.7 130.6,317.3 130.9,312.6 131.1,312.6 131.4,310.1 131.7,344.1 131.9,308.3 132.2,310.8 132.5,309.1 132.7,303.7 133.0,307.4 133.3,309.6 133.5,303.7 133.8,307.7 134.1,305.9 134.3,302.5 134.6,298.2 134.9,301.8 135.1,298.5 135.4,305.7 135.7,303.3 135.9,298.9 136.2,300.0 136.4,300.6 136.7,302.0 137.0,298.2 137.2,294.9 137.5,292.0 137.8,304.0 138.0,290.6 138.3,289.7 138.6,296.7 138.8,295.6 139.1,291.2 139.4,296.0 139.6,296.3 139.9,289.9 140.2,286.2 140.4,286.4 140.7,288.6 141.0,286.3 141.2,284.6 141.5,286.7 141.8,286.8 142.0,289.0 142.3,290.2 142.6,286.8 142.8,291.6 143.1,282.1 143.3,284.3 143.6,281.7 143.9,285.2 144.1,278.1 144.4,281.9 144.7,287.6 144.9,276.5 145.2,275.4 145.5,274.5 145.7,277.4 146.0,282.2 146.3,272.0 146.5,271.3 146.8,278.8 147.1,272.3 147.3,274.0 147.6,276.4 147.9,270.4 148.1,278.6 148.4,270.6 148.7,271.3 148.9,282.7 149.2,271.1 149.5,266.9 149.7,267.0 150.0,286.0 150.3,267.3 150.5,266.4 150.8,263.2 151.0,262.8 151.3,263.1 151.6,264.0 151.8,272.4 152.1,270.9 152.4,260.3 152.6,264.5 152.9,261.4 153.2,268.2 153.4,269.1 153.7,262.5 154.0,264.7 154.2,259.2 154.5,257.0 154.8,261.7 155.0,254.9 155.3,258.7 155.6,262.2 155.8,254.1 156.1,272.1 156.4,253.3 156.6,258.6 156.9,252.3 157.2,255.4 157.4,252.9 157.7,249.4 157.9,254.9 158.2,248.4 158.5,253.9 158.7,251.6 159.0,255.9 159.3,250.1 159.5,245.8 159.8,247.8 160.1,251.8 160.3,244.4 160.6,244.7 160.9,243.5 161.1,251.1 161.4,245.9 161.7,242.2 161.9,247.5 162.2,242.2 162.5,245.7 162.7,247.6 163.0,245.0 163.3,247.1 163.5,239.3 163.8,244.8 164.1,242.5 164.3,239.4 164.6,242.0 164.8,241.4 165.1,235.2 165.4,235.8 165.6,238.6 165.9,234.3 166.2,236.5 166.4,235.3 166.7,236.9 167.0,232.4 167.2,237.1 167.5,238.2 167.8,234.6 168.0,232.4 168.3,230.6 168.6,238.3 168.8,239.3 169.1,236.5 169.4,230.3 169.6,240.9 169.9,230.5 170.2,228.0 170.4,230.1 170.7,225.5 171.0,225.6 171.2,230.1 171.5,234.8 171.8,234.8 172.0,230.2 172.3,225.0 172.5,242.8 172.8,230.9 173.1,221.6 173.3,228.9 173.6,228.0 173.9,220.1 174.1,226.7 174.4,223.2 174.7,220.0 174.9,225.7 175.2,218.3 175.5,222.3 175.7,216.3 176.0,224.9 176.3,221.5 176.5,217.4 176.8,213.6 177.1,223.8 177.3,216.2 177.6,221.5 177.9,221.9 178.1,215.9 178.4,213.6 178.7,211.1 178.9,212.7 179.2,211.5 179.4,208.1 179.7,208.1 180.0,215.1 180.2,215.4 180.5,209.4 180.8,215.7 181.0,209.9 181.3,205.8 181.6,210.2 181.8,209.2 182.1,209.6 182.4,212.0 182.6,202.9 182.9,201.2 183.2,205.0 183.4,201.6 183.7,204.0 184.0,206.4 184.2,199.6 184.5,202.5 184.8,205.4 185.0,207.4 185.3,196.2 185.6,197.8 185.8,198.1 186.1,199.8 186.4,197.6 186.6,196.1 186.9,196.2 187.1,198.2 187.4,192.3 187.7,195.3 187.9,200.2 188.2,196.0 188.5,197.1 188.7,197.1 189.0,201.0 189.3,189.2 189.5,188.7 189.8,191.2 190.1,189.6 190.3,187.3 190.6,192.0 190.9,193.1 191.1,192.7 191.4,188.8 191.7,188.0 191.9,186.1 192.2,192.9 192.5,190.6 192.7,190.3 193.0,186.5 193.3,182.3 193.5,182.0 193.8,181.4 194.0,189.3 194.3,180.6 194.6,183.7 194.8,185.0 195.1,185.8 195.4,182.2 195.6,183.0 195.9,180.1 196.2,184.0 196.4,177.0 196.7,177.0 197.0,177.7 197.2,180.0 197.5,176.8 197.8,189.7 198.0,181.2 198.3,174.0 198.6,174.6 198.8,180.5 199.1,178.2 199.4,176.5 199.6,176.9 199.9,172.9 200.2,181.5 200.4,172.4 200.7,172.2 201.0,173.9 201.2,172.1 201.5,175.9 201.7,169.9 202.0,169.2 202.3,173.2 202.5,188.6 202.8,176.2 203.1,172.5 203.3,166.6 203.6,168.8 203.9,171.1 204.1,168.0 204.4,165.4 204.7,165.6 204.9,170.1 205.2,166.5 205.5,168.6 205.7,170.9 206.0,171.6 206.3,168.5 206.5,165.0 206.8,167.3 207.1,169.6 207.3,168.5 207.6,164.9 207.9,168.8 208.1,168.3 208.4,163.5 208.6,164.3 208.9,163.0 209.2,161.1 209.4,167.1 209.7,166.4 210.0,159.8 210.2,160.0 210.5,164.8 210.8,186.3 211.0,159.7 211.3,161.5 211.6,162.2 211.8,164.1 212.1,158.6 212.4,158.5 212.6,157.2 212.9,157.9 213.2,161.1 213.4,158.0 213.7,159.7 214.0,160.0 214.2,159.1 214.5,157.2 214.8,157.7 215.0,160.8 215.3,156.0 215.6,154.6 215.8,154.5 216.1,154.7 216.3,153.6 216.6,160.4 216.9,158.6 217.1,157.8 217.4,155.7 217.7,159.5 217.9,152.7 218.2,157.7 218.5,151.2 218.7,151.8 219.0,153.1 219.3,156.5 219.5,154.0 219.8,155.2 220.1,152.5 220.3,149.3 220.6,149.3 220.9,150.2 221.1,149.0 221.4,155.6 221.7,151.4 221.9,154.2 222.2,155.2 222.5,154.5 222.7,147.4 223.0,146.9 223.2,151.6 223.5,148.3 223.8,149.1 224.0,152.5 224.3,150.1 224.6,151.3 224.8,150.6 225.1,148.0 225.4,146.9 225.6,149.2 225.9,151.5 226.2,150.7 226.4,150.4 226.7,145.3 227.0,144.6 227.2,148.4 227.5,146.5 227.8,150.8 228.0,143.8 228.3,150.3 228.6,149.9 228.8,142.4 229.1,147.4 229.4,148.1 229.6,145.6 229.9,142.5 230.2,152.9 230.4,146.9 230.7,144.4 230.9,143.4 231.2,147.6 231.5,142.4 231.7,144.8 232.0,144.4 232.3,141.0 232.5,145.2 232.8,141.5 233.1,142.2 233.3,141.0 233.6,140.5 233.9,144.4 234.1,139.5 234.4,148.5 234.7,143.5 234.9,144.3 235.2,140.1 235.5,138.7 235.7,142.4 236.0,138.4 236.3,145.0 236.5,137.9 236.8,155.4 237.1,140.6 237.3,250.3 237.6,139.4 237.8,137.3 238.1,141.2 238.4,140.0 238.6,140.2 238.9,139.6 239.2,142.6 239.4,138.7 239.7,142.7 240.0,136.0 240.2,137.9 240.5,139.3 240.8,135.5 241.0,138.9 241.3,135.8 241.6,142.5 241.8,140.6 242.1,138.7 242.4,139.3 242.6,140.5 242.9,138.7 243.2,141.6 243.4,134.4 243.7,137.9 244.0,134.2 244.2,136.1 244.5,137.9 244.8,138.1 245.0,133.8 245.3,137.8 245.5,137.5 245.8,134.8 246.1,133.6 246.3,136.0 246.6,138.9 246.9,134.8 247.1,137.7 247.4,133.0 247.7,138.7 247.9,137.1 248.2,133.2 248.5,132.7 248.7,136.2 249.0,138.2 249.3,140.7 249.5,132.0 249.8,133.4 250.1,134.5 250.3,131.8 250.6,131.7 250.9,134.1 251.1,132.1 251.4,137.1 251.7,133.6 251.9,137.4 252.2,133.5 252.4,133.0 252.7,135.9 253.0,134.9 253.2,134.1 253.5,131.6 253.8,131.4 254.0,137.5 254.3,132.9 254.6,137.5 254.8,131.3 255.1,134.6 255.4,135.1 255.6,141.1 255.9,131.3 256.2,135.2 256.4,130.4 256.7,137.2 257.0,133.0 257.2,133.2 257.5,136.9 257.8,131.9 258.0,133.3 258.3,132.8 258.6,133.8 258.8,133.8 259.1,131.1 259.4,129.5 259.6,133.1 259.9,135.6 260.1,133.7 260.4,136.3 260.7,129.7 260.9,130.3 261.2,135.2 261.5,129.1 261.7,130.4 262.0,129.0 262.3,136.9 262.5,134.2 262.8,130.1 263.1,129.2 263.3,130.4 263.6,133.3 263.9,132.7 264.1,132.8 264.4,134.8 264.7,131.1 264.9,132.3 265.2,134.2 265.5,129.1 265.7,133.1 266.0,134.1 266.3,131.8 266.5,133.9 266.8,133.7 267.0,133.3 267.3,130.6 267.6,129.3 267.8,132.0 268.1,128.8 268.4,132.3 268.6,131.9 268.9,135.4 269.2,133.0 269.4,128.6 269.7,129.6 270.0,133.9 270.2,131.8 270.5,133.2 270.8,131.9 271.0,131.0 271.3,132.3 271.6,132.5 271.8,132.3 272.1,133.4 272.4,129.4 272.6,129.9 272.9,132.6 273.2,128.9 273.4,134.3 273.7,131.0 273.9,130.6 274.2,128.3 274.5,130.6 274.7,129.8 275.0,132.0 275.3,129.7 275.5,132.6 275.8,128.0 276.1,130.2 276.3,131.7 276.6,131.2 276.9,124.3 277.1,127.5 277.4,131.2 277.7,124.9 277.9,128.0 278.2,129.3 278.5,131.0 278.7,132.4 279.0,129.7 279.3,132.2 279.5,130.8 279.8,131.7 280.1,123.2 280.3,131.1 280.6,126.6 280.9,131.3 281.1,123.8 281.4,126.4 281.6,124.1 281.9,130.6 282.2,129.6 282.4,129.0 282.7,124.7 283.0,129.0 283.2,131.9 283.5,132.2 283.8,132.3 284.0,123.8 284.3,123.3 284.6,125.1 284.8,119.9 285.1,125.0 285.4,128.0 285.6,128.7 285.9,123.1 286.2,124.5 286.4,124.5 286.7,122.4 287.0,124.8 287.2,127.9 287.5,130.8 287.8,128.9 288.0,124.0 288.3,131.4 288.5,131.2 288.8,129.6 289.1,129.5 289.3,123.3 289.6,124.3 289.9,122.2 290.1,127.0 290.4,124.2 290.7,123.4 290.9,128.6 291.2,131.9 291.5,131.3 291.7,126.9 292.0,129.1 292.3,128.5 292.5,124.1 292.8,127.4 293.1,128.4 293.3,128.8 293.6,130.7 293.9,122.6 294.1,123.9 294.4,127.9 294.7,128.8 294.9,127.4 295.2,123.6 295.5,127.6 295.7,125.7 296.0,126.0 296.2,123.0 296.5,123.9 296.8,121.2 297.0,123.2 297.3,121.3 297.6,126.4 297.8,129.6 298.1,126.1 298.4,124.2 298.6,128.3 298.9,120.2 299.2,127.1 299.4,124.3 299.7,129.0 300.0,126.0 300.2,131.2 300.5,126.5 300.8,120.0 301.0,129.5 301.3,126.3 301.6,122.4 301.8,126.8 302.1,125.4 302.4,119.0 302.6,122.4 302.9,126.5 303.1,121.6 303.4,120.3 303.7,123.9 303.9,125.4 304.2,130.7 304.5,121.7 304.7,120.4 305.0,122.8 305.3,121.9 305.5,122.9 305.8,128.6 306.1,121.8 306.3,121.6 306.6,125.2 306.9,118.9 307.1,126.8 307.4,117.8 307.7,125.8 307.9,119.1 308.2,120.3 308.5,125.5 308.7,121.4 309.0,127.9 309.3,124.3 309.5,124.8 309.8,125.9 310.1,123.9 310.3,126.8 310.6,121.8 310.8,120.0 311.1,120.7 311.4,125.4 311.6,124.8 311.9,125.2 312.2,120.5 312.4,119.9 312.7,123.2 313.0,129.0 313.2,128.7 313.5,123.7 313.8,123.5 314.0,129.7 314.3,124.7 314.6,126.4 314.8,124.1 315.1,128.7 315.4,123.8 315.6,123.8 315.9,120.8 316.2,126.2 316.4,120.4 316.7,125.7 317.0,128.5 317.2,119.5 317.5,123.1 317.7,117.0 318.0,123.1 318.3,124.3 318.5,118.4 318.8,122.4 319.1,124.0 319.3,126.7 319.6,116.3 319.9,128.3 320.1,122.8 320.4,124.3 320.7,120.0 320.9,124.1 321.2,123.0 321.5,128.9 321.7,124.7 322.0,126.9 322.3,120.7 322.5,123.1 322.8,121.6 323.1,129.5 323.3,124.4 323.6,121.9 323.9,123.7 324.1,122.0 324.4,120.3 324.7,123.4 324.9,126.2 325.2,117.0 325.4,127.9 325.7,128.0 326.0,123.4 326.2,125.5 326.5,129.7 326.8,119.4 327.0,125.1 327.3,123.3 327.6,116.6 327.8,120.7 328.1,126.4 328.4,124.3 328.6,127.4 328.9,125.1 329.2,123.7 329.4,121.5 329.7,125.4 330.0,121.8 330.2,119.2 330.5,122.6 330.8,126.3 331.0,120.0 331.3,120.9 331.6,125.3 331.8,126.7 332.1,117.9 332.3,125.0 332.6,126.1 332.9,133.3 333.1,125.5 333.4,124.9 333.7,118.4 333.9,117.1 334.2,126.2 334.5,118.4 334.7,120.2 335.0,124.0 335.3,118.0 335.5,113.6 335.8,118.9 336.1,126.2 336.3,122.5 336.6,119.4 336.9,124.2 337.1,127.6 337.4,116.4 337.7,125.5 337.9,125.5 338.2,121.1 338.5,122.4 338.7,125.1 339.0,123.2 339.3,117.9 339.5,121.7 339.8,122.1 340.0,124.0 340.3,120.5 340.6,126.8 340.8,119.6 341.1,120.1 341.4,117.7 341.6,120.2 341.9,118.1 342.2,126.7 342.4,127.5 342.7,118.6 343.0,123.2 343.2,115.7 343.5,117.7 343.8,124.5 344.0,125.5 344.3,120.8 344.6,137.8 344.8,122.5 345.1,118.8 345.4,118.4 345.6,113.9 345.9,126.2 346.2,117.2 346.4,117.8 346.7,126.3 346.9,121.7 347.2,121.0 347.5,118.7 347.7,124.2 348.0,122.4 348.3,124.4 348.5,127.5 348.8,120.4 349.1,118.2 349.3,119.0 349.6,114.9 349.9,122.3 350.1,119.9 350.4,126.5 350.7,116.6 350.9,118.1 351.2,116.9 351.5,116.6 351.7,127.6 352.0,121.4 352.3,120.8 352.5,121.1 352.8,126.9 353.1,114.6 353.3,119.4 353.6,123.8 353.9,126.5 354.1,117.7 354.4,130.7 354.6,123.2 354.9,124.1 355.2,123.9 355.4,122.3 355.7,122.1 356.0,119.4 356.2,119.1 356.5,121.9 356.8,118.4 357.0,119.5 357.3,118.5 357.6,119.0 357.8,117.9 358.1,121.8 358.4,117.4 358.6,122.9 358.9,125.9 359.2,123.9 359.4,120.5 359.7,124.0 360.0,118.0 360.2,116.3 360.5,117.6 360.8,118.1 361.0,119.2 361.3,116.6 361.5,127.8 361.8,116.1 362.1,119.0 362.3,118.8 362.6,118.7 362.9,122.2 363.1,127.9 363.4,123.0 363.7,121.2 363.9,115.2 364.2,124.3 364.5,116.0 364.7,119.5 365.0,123.6 365.3,118.9 365.5,117.9 365.8,125.4 366.1,116.5 366.3,119.3 366.6,121.6 366.9,120.9 367.1,121.2 367.4,123.4 367.7,115.5 367.9,122.7 368.2,119.9 368.4,128.0 368.7,119.6 369.0,120.0 369.2,117.2 369.5,118.0 369.8,121.5 370.0,116.7 370.3,124.9 370.6,115.2 370.8,120.3 371.1,123.9 371.4,121.1 371.6,123.4 371.9,114.3 372.2,124.0 372.4,120.2 372.7,125.1 373.0,125.3 373.2,122.8 373.5,115.6 373.8,120.2 374.0,121.4 374.3,117.1 374.6,120.6 374.8,122.8 375.1,116.0 375.4,119.1 375.6,114.7 375.9,119.4 376.1,120.4 376.4,124.0 376.7,124.3 376.9,124.8 377.2,127.7 377.5,121.0 377.7,118.2 378.0,124.2 378.3,115.4 378.5,118.2 378.8,120.6 379.1,123.7 379.3,120.6 379.6,117.4 379.9,125.9 380.1,126.4 380.4,127.8 380.7,121.9 380.9,119.3 381.2,124.4 381.5,122.0 381.7,123.2 382.0,121.2 382.3,119.9 382.5,127.0 382.8,124.6 383.0,119.4 383.3,121.1 383.6,117.0 383.8,120.2 384.1,123.2 384.4,126.5 384.6,125.5 384.9,122.6 385.2,117.4 385.4,123.1 385.7,119.3 386.0,125.7 386.2,118.1 386.5,122.5 386.8,119.1 387.0,123.1 387.3,118.9 387.6,116.7 387.8,125.5 388.1,117.7 388.4,117.9 388.6,118.8 388.9,127.7 389.2,118.9 389.4,120.3 389.7,119.0 390.0,118.7 390.2,114.3 390.5,122.4 390.7,123.0 391.0,122.1 391.3,117.3 391.5,115.9 391.8,121.4 392.1,119.2 392.3,115.9 392.6,120.1 392.9,120.6 393.1,122.3 393.4,114.2 393.7,122.3 393.9,123.5 394.2,129.3 394.5,123.4 394.7,123.7 395.0,120.8 395.3,121.8 395.5,119.3 395.8,116.4 396.1,125.5 396.3,126.7 396.6,123.2 396.9,122.6 397.1,118.4 397.4,121.5 397.6,126.1 397.9,124.8 398.2,122.9 398.4,129.0 398.7,118.7 399.0,115.3 399.2,122.2 399.5,122.6 399.8,120.0 400.0,121.2 400.3,118.0 400.6,126.6 400.8,123.4 401.1,119.4 401.4,119.1 401.6,128.0 401.9,124.6 402.2,119.9 402.4,116.7 402.7,124.3 403.0,119.1 403.2,124.4 403.5,125.8 403.8,115.5 404.0,120.0 404.3,120.1 404.6,120.9 404.8,117.8 405.1,116.7 405.3,123.5 405.6,120.2 405.9,117.9 406.1,125.2 406.4,118.9 406.7,117.2 406.9,128.6 407.2,124.7 407.5,122.1 407.7,122.3 408.0,124.5 408.3,115.3 408.5,127.5 408.8,123.8 409.1,124.3 409.3,124.0 409.6,125.6 409.9,127.5 410.1,118.9 410.4,120.8 410.7,125.2 410.9,119.0 411.2,125.9 411.5,122.0 411.7,123.3 412.0,124.1 412.2,126.3 412.5,114.8 412.8,127.7 413.0,123.9 413.3,126.2 413.6,119.7 413.8,126.6 414.1,117.2 414.4,120.6 414.6,123.3 414.9,120.8 415.2,124.9 415.4,124.5 415.7,128.4 416.0,124.2 416.2,116.7 416.5,126.8 416.8,129.2 417.0,121.6 417.3,117.9 417.6,119.6 417.8,119.9 418.1,123.8 418.4,119.2 418.6,126.3 418.9,121.3 419.2,123.5 419.4,122.5 419.7,127.3 419.9,125.8 420.2,120.8 420.5,118.9 420.7,124.1 421.0,126.3 421.3,119.7 421.5,126.3 421.8,125.4 422.1,125.4 422.3,118.1 422.6,122.0 422.9,127.2 423.1,124.6 423.4,120.5 423.7,125.0 423.9,124.5 424.2,124.6 424.5,129.5 424.7,122.5 425.0,125.6 425.3,122.9 425.5,124.0 425.8,120.3 426.1,121.2 426.3,125.1 426.6,126.2 426.8,122.6 427.1,118.5 427.4,126.0 427.6,123.3 427.9,120.8 428.2,126.3 428.4,123.4 428.7,121.1 429.0,124.3 429.2,130.8 429.5,128.5 429.8,123.4 430.0,125.9 430.3,122.6 430.6,123.7 430.8,128.4 431.1,123.6 431.4,125.2 431.6,120.9 431.9,126.8 432.2,124.3 432.4,124.5 432.7,123.3 433.0,125.1 433.2,120.9 433.5,127.4 433.8,128.3 434.0,132.0 434.3,121.1 434.5,120.3 434.8,122.5 435.1,125.5 435.3,125.9 435.6,149.0 435.9,122.9 436.1,121.3 436.4,121.5 436.7,120.8 436.9,127.3 437.2,121.3 437.5,121.2 437.7,120.2 438.0,120.2 438.3,123.4 438.5,128.7 438.8,125.6 439.1,132.9 439.3,120.6 439.6,125.5 439.9,121.1 440.1,126.6 440.4,128.7 440.7,132.0 440.9,128.0 441.2,118.4 441.4,121.7 441.7,124.6 442.0,125.3 442.2,124.0 442.5,124.3 442.8,126.3 443.0,123.0 443.3,126.2 443.6,132.7 443.8,122.1 444.1,131.3 444.4,124.9 444.6,121.1 444.9,117.4 445.2,126.2 445.4,122.9 445.7,126.4 446.0,122.7 446.2,124.3 446.5,122.5 446.8,126.0 447.0,128.6 447.3,121.4 447.6,123.7 447.8,117.9 448.1,130.4 448.4,120.4 448.6,125.2 448.9,130.3 449.1,126.4 449.4,127.4 449.7,126.1 449.9,122.6 450.2,123.4 450.5,123.0 450.7,122.9 451.0,117.9 451.3,121.4 451.5,119.7 451.8,120.9 452.1,130.1 452.3,125.1 452.6,129.4 452.9,122.9 453.1,127.0 453.4,122.6 453.7,125.1 453.9,129.7 454.2,127.8 454.5,127.7 454.7,124.4 455.0,122.0 455.3,125.5 455.5,129.7 455.8,124.0 456.0,124.8 456.3,125.2 456.6,126.2 456.8,129.0 457.1,118.6 457.4,122.2 457.6,126.2 457.9,124.1 458.2,129.1 458.4,122.9 458.7,127.4 459.0,126.0 459.2,122.9 459.5,127.2 459.8,126.4 460.0,122.0 460.3,129.7 460.6,130.2 460.8,131.3 461.1,124.4 461.4,127.8 461.6,126.4 461.9,122.9 462.2,121.4 462.4,129.4 462.7,129.7 463.0,124.3 463.2,124.2 463.5,123.8 463.7,125.7 464.0,132.2 464.3,124.4 464.5,130.4 464.8,130.5 465.1,128.5 465.3,125.4 465.6,126.9 465.9,129.6 466.1,125.3 466.4,133.8 466.7,130.8 466.9,131.8 467.2,125.9 467.5,122.3 467.7,130.9 468.0,123.9 468.3,130.3 468.5,132.3 468.8,129.8 469.1,123.1 469.3,130.3 469.6,126.2 469.9,129.2 470.1,132.2 470.4,125.8 470.6,127.8 470.9,128.1 471.2,120.7 471.4,124.0 471.7,117.5 472.0,122.1 472.2,122.7 472.5,121.4 472.8,126.3 473.0,135.1 473.3,124.8 473.6,130.9 473.8,127.9 474.1,127.9 474.4,130.4 474.6,124.4 474.9,125.9 475.2,121.7 475.4,124.0 475.7,129.2 476.0,131.8 476.2,134.9 476.5,124.1 476.8,132.0 477.0,130.4 477.3,125.6 477.5,126.5 477.8,128.1 478.1,129.9 478.3,128.6 478.6,128.4 478.9,122.6 479.1,127.0 479.4,129.4 479.7,132.4 479.9,126.6 480.2,130.9 480.5,126.3 480.7,130.2 481.0,132.5 481.3,125.3 481.5,127.0 481.8,128.5 482.1,122.3 482.3,120.2 482.6,125.8 482.9,129.0 483.1,134.0 483.4,122.8 483.7,125.5 483.9,134.9 484.2,125.2 484.5,129.9 484.7,124.1 485.0,131.2 485.2,132.7 485.5,122.1 485.8,131.4 486.0,130.8 486.3,130.3 486.6,142.4 486.8,127.0 487.1,130.0 487.4,127.0 487.6,122.4 487.9,128.9 488.2,132.9 488.4,124.2 488.7,126.6 489.0,127.8 489.2,133.4 489.5,124.3 489.8,126.8 490.0,129.3 490.3,129.4 490.6,126.2 490.8,123.9 491.1,124.1 491.4,133.6 491.6,127.0 491.9,132.4 492.1,129.1 492.4,123.7 492.7,130.1 492.9,121.9 493.2,122.3 493.5,130.8 493.7,129.3 494.0,121.6 494.3,136.7 494.5,128.7 494.8,130.0 495.1,130.3 495.3,120.9 495.6,124.6 495.9,130.1 496.1,131.8 496.4,135.2 496.7,129.8 496.9,127.4 497.2,125.7 497.5,133.6 497.7,124.0 498.0,123.1 498.3,130.7 498.5,127.6 498.8,125.4 499.1,134.9 499.3,141.7 499.6,125.3 499.8,128.6 500.1,128.7 500.4,130.9 500.6,130.5 500.9,126.4 501.2,130.4" fill="none" stroke="#ff7f0e" stroke-width="2.78" stroke-linejoin="round" stroke-linecap="square"/>
<polyline points="103.0,438.5 103.3,430.3 103.5,430.1 103.8,429.9 104.1,429.7 104.3,429.5 104.6,429.3 104.9,429.1 105.1,428.9 105.4,428.7 105.7,428.6 105.9,428.4 106.2,428.2 106.5,428.0 106.7,427.4 107.0,426.7 107.2,426.1 107.5,425.4 107.8,424.8 108.0,424.2 108.3,423.5 108.6,422.9 108.8,422.3 109.1,421.4 109.4,420.7 109.6,419.8 109.9,419.0 110.2,418.1 110.4,417.3 110.7,416.5 111.0,415.7 111.2,414.9 111.5,414.3 111.8,413.5 112.0,412.9 112.3,412.2 112.6,411.5 112.8,410.8 113.1,410.1 113.4,409.5 113.6,408.9 113.9,408.3 114.1,407.7 114.4,407.1 114.7,406.5 114.9,405.9 115.2,405.4 115.5,404.9 115.7,404.2 116.0,403.7 116.3,403.3 116.5,402.8 116.8,402.4 117.1,401.9 117.3,401.4 117.6,401.0 117.9,400.6 118.1,400.1 118.4,399.8 118.7,399.6 118.9,399.3 119.2,399.0 119.5,398.8 119.7,398.6 120.0,398.2 120.3,398.0 120.5,397.8 120.8,397.5 121.1,441.5 121.3,397.0 121.6,396.6 121.8,396.3 122.1,396.0 122.4,395.5 122.6,395.1 122.9,394.6 123.2,394.2 123.4,393.8 123.7,393.4 124.0,393.0 124.2,392.7 124.5,392.2 124.8,391.8 125.0,391.4 125.3,391.0 125.6,390.7 125.8,390.2 126.1,389.9 126.4,389.5 126.6,389.0 126.9,388.7 127.2,388.2 127.4,387.8 127.7,387.5 128.0,387.1 128.2,386.6 128.5,386.2 128.7,385.8 129.0,385.6 129.3,396.2 129.5,384.8 129.8,384.3 130.1,383.9 130.3,383.3 130.6,382.9 130.9,382.5 131.1,381.9 131.4,381.5 131.7,380.9 131.9,380.5 132.2,380.1 132.5,379.7 132.7,379.3 133.0,378.6 133.3,378.3 133.5,378.0 133.8,377.6 134.1,377.2 134.3,376.8 134.6,376.5 134.9,376.3 135.1,375.8 135.4,375.6 135.7,375.1 135.9,374.9 136.2,380.2 136.4,374.3 136.7,373.9 137.0,373.5 137.2,373.3 137.5,372.7 137.8,372.6 138.0,372.2 138.3,371.8 138.6,371.3 138.8,371.1 139.1,370.9 139.4,370.9 139.6,370.3 139.9,370.1 140.2,370.1 140.4,369.6 140.7,369.7 141.0,369.2 141.2,369.0 141.5,368.7 141.8,368.6 142.0,368.5 142.3,368.1 142.6,368.1 142.8,367.9 143.1,367.6 143.3,367.5 143.6,367.3 143.9,367.0 144.1,366.8 144.4,366.6 144.7,366.6 144.9,366.4 145.2,365.9 145.5,365.9 145.7,365.7 146.0,365.6 146.3,406.4 146.5,402.7 146.8,398.9 147.1,395.3 147.3,392.3 147.6,391.3 147.9,389.9 148.1,388.7 148.4,387.5 148.7,386.6 148.9,385.7 149.2,385.0 149.5,384.0 149.7,383.1 150.0,382.4 150.3,381.9 150.5,381.0 150.8,379.9 151.0,379.6 151.3,379.3 151.6,379.1 151.8,377.9 152.1,377.2 152.4,376.8 152.6,376.3 152.9,375.8 153.2,375.2 153.4,375.0 153.7,375.3 154.0,374.0 154.2,373.6 154.5,373.1 154.8,372.7 155.0,372.6 155.3,371.8 155.6,372.6 155.8,371.6 156.1,371.4 156.4,371.7 156.6,370.7 156.9,370.8 157.2,371.0 157.4,370.1 157.7,370.0 157.9,369.8 158.2,369.8 158.5,369.7 158.7,369.3 159.0,369.6 159.3,368.9 159.5,368.3 159.8,369.1 160.1,369.1 160.3,368.7 160.6,367.9 160.9,367.2 161.1,367.7 161.4,366.7 161.7,367.1 161.9,367.7 162.2,366.6 162.5,367.3 162.7,366.6 163.0,366.5 163.3,366.2 163.5,366.5 163.8,364.8 164.1,365.2 164.3,365.8 164.6,365.3 164.8,364.2 165.1,364.5 165.4,365.7 165.6,364.9 165.9,364.3 166.2,364.0 166.4,364.9 166.7,364.7 167.0,364.3 167.2,363.7 167.5,362.7 167.8,363.5 168.0,363.7 168.3,364.1 168.6,363.1 168.8,362.8 169.1,362.6 169.4,362.9 169.6,362.5 169.9,361.7 170.2,362.9 170.4,362.0 170.7,362.6 171.0,362.9 171.2,362.0 171.5,362.3 171.8,360.6 172.0,361.7 172.3,361.0 172.5,361.8 172.8,362.4 173.1,360.7 173.3,361.0 173.6,360.5 173.9,360.5 174.1,361.4 174.4,361.1 174.7,361.2 174.9,361.5 175.2,360.2 175.5,360.8 175.7,360.4 176.0,360.1 176.3,361.0 176.5,359.4 176.8,361.0 177.1,360.7 177.3,360.8 177.6,359.5 177.9,359.8 178.1,360.8 178.4,360.6 178.7,359.9 178.9,359.4 179.2,360.8 179.4,360.1 179.7,360.4 180.0,359.2 180.2,359.4 180.5,358.5 180.8,358.8 181.0,359.2 181.3,359.2 181.6,358.6 181.8,358.8 182.1,359.4 182.4,358.6 182.6,359.9 182.9,358.4 183.2,359.5 183.4,358.9 183.7,357.6 184.0,358.2 184.2,358.1 184.5,357.8 184.8,356.7 185.0,359.3 185.3,358.4 185.6,357.0 185.8,357.9 186.1,356.3 186.4,357.1 186.6,356.0 186.9,357.9 187.1,357.4 187.4,356.6 187.7,356.6 187.9,357.0 188.2,357.0 188.5,356.9 188.7,355.6 189.0,355.3 189.3,354.6 189.5,356.3 189.8,356.4 190.1,354.6 190.3,356.1 190.6,356.0 190.9,355.6 191.1,355.3 191.4,356.1 191.7,355.3 191.9,354.1 192.2,354.0 192.5,353.8 192.7,355.7 193.0,354.5 193.3,354.6 193.5,354.6 193.8,353.6 194.0,353.1 194.3,353.1 194.6,353.6 194.8,354.3 195.1,355.2 195.4,355.5 195.6,354.3 195.9,353.6 196.2,352.3 196.4,353.5 196.7,353.8 197.0,351.4 197.2,353.9 197.5,352.7 197.8,354.0 198.0,354.1 198.3,351.9 198.6,352.1 198.8,352.0 199.1,352.4 199.4,351.2 199.6,352.2 199.9,353.5 200.2,353.0 200.4,353.2 200.7,351.9 201.0,352.9 201.2,350.9 201.5,352.1 201.7,352.2 202.0,352.4 202.3,352.0 202.5,351.1 202.8,353.3 203.1,352.0 203.3,352.4 203.6,352.6 203.9,350.5 204.1,351.6 204.4,352.3 204.7,350.4 204.9,349.7 205.2,352.0 205.5,351.1 205.7,349.6 206.0,350.0 206.3,350.0 206.5,350.9 206.8,351.4 207.1,349.2 207.3,349.6 207.6,349.8 207.9,349.2 208.1,349.8 208.4,350.5 208.6,349.3 208.9,349.2 209.2,348.9 209.4,349.2 209.7,349.3 210.0,349.3 210.2,349.4 210.5,349.2 210.8,349.1 211.0,347.6 211.3,348.4 211.6,349.9 211.8,349.6 212.1,348.0 212.4,349.1 212.6,347.8 212.9,350.8 213.2,349.4 213.4,348.5 213.7,347.5 214.0,347.4 214.2,347.9 214.5,347.4 214.8,348.1 215.0,349.0 215.3,346.4 215.6,347.9 215.8,348.0 216.1,349.2 216.3,348.1 216.6,347.2 216.9,349.0 217.1,346.6 217.4,348.1 217.7,347.9 217.9,348.1 218.2,348.2 218.5,345.6 218.7,347.9 219.0,347.1 219.3,348.7 219.5,348.9 219.8,346.2 220.1,348.7 220.3,346.3 220.6,346.1 220.9,346.7 221.1,350.1 221.4,345.8 221.7,345.0 221.9,346.2 222.2,345.4 222.5,345.4 222.7,348.0 223.0,346.6 223.2,350.5 223.5,349.5 223.8,345.8 224.0,348.5 224.3,347.2 224.6,349.0 224.8,345.4 225.1,343.8 225.4,342.8 225.6,343.5 225.9,349.5 226.2,350.2 226.4,347.7 226.7,346.2 227.0,349.7 227.2,348.5 227.5,349.0 227.8,344.5 228.0,347.2 228.3,345.3 228.6,345.5 228.8,345.1 229.1,344.1 229.4,344.8 229.6,347.0 229.9,349.0 230.2,346.5 230.4,345.4 230.7,346.7 230.9,345.6 231.2,345.9 231.5,345.7 231.7,347.3 232.0,343.5 232.3,347.7 232.5,347.7 232.8,346.3 233.1,342.7 233.3,345.6 233.6,343.5 233.9,345.1 234.1,345.8 234.4,340.3 234.7,346.1 234.9,344.7 235.2,344.3 235.5,342.8 235.7,347.0 236.0,344.5 236.3,347.7 236.5,346.6 236.8,342.4 237.1,342.9 237.3,346.5 237.6,341.0 237.8,342.6 238.1,347.6 238.4,341.0 238.6,345.0 238.9,346.3 239.2,343.7 239.4,345.2 239.7,347.0 240.0,343.7 240.2,346.7 240.5,342.5 240.8,343.0 241.0,343.8 241.3,341.3 241.6,344.7 241.8,342.9 242.1,346.0 242.4,343.3 242.6,342.7 242.9,343.3 243.2,345.2 243.4,344.0 243.7,343.2 244.0,342.4 244.2,342.3 244.5,339.8 244.8,345.8 245.0,347.0 245.3,342.8 245.5,343.4 245.8,343.0 246.1,344.6 246.3,345.7 246.6,345.9 246.9,346.1 247.1,342.2 247.4,344.1 247.7,347.5 247.9,343.4 248.2,345.3 248.5,344.8 248.7,344.9 249.0,340.0 249.3,345.7 249.5,344.7 249.8,340.2 250.1,345.5 250.3,341.6 250.6,347.2 250.9,342.5 251.1,344.7 251.4,346.9 251.7,342.4 251.9,342.0 252.2,341.3 252.4,343.1 252.7,339.9 253.0,340.8 253.2,343.5 253.5,343.8 253.8,345.6 254.0,346.0 254.3,348.7 254.6,343.9 254.8,346.1 255.1,345.9 255.4,344.9 255.6,344.4 255.9,339.9 256.2,340.5 256.4,342.2 256.7,342.6 257.0,342.3 257.2,343.0 257.5,343.8 257.8,346.1 258.0,346.2 258.3,343.2 258.6,343.9 258.8,343.3 259.1,345.5 259.4,346.4 259.6,343.1 259.9,343.9 260.1,347.0 260.4,345.1 260.7,345.7 260.9,347.0 261.2,341.2 261.5,347.2 261.7,344.3 262.0,341.8 262.3,340.6 262.5,342.2 262.8,348.4 263.1,346.7 263.3,345.3 263.6,343.8 263.9,346.7 264.1,347.5 264.4,343.7 264.7,345.0 264.9,342.9 265.2,343.2 265.5,346.7 265.7,346.9 266.0,344.4 266.3,346.0 266.5,343.2 266.8,342.5 267.0,342.3 267.3,350.8 267.6,348.8 267.8,343.8 268.1,343.3 268.4,343.1 268.6,343.7 268.9,346.3 269.2,345.4 269.4,344.3 269.7,342.3 270.0,344.4 270.2,341.1 270.5,348.2 270.8,344.1 271.0,342.0 271.3,342.5 271.6,341.6 271.8,341.1 272.1,341.1 272.4,342.2 272.6,341.8 272.9,345.7 273.2,344.4 273.4,342.5 273.7,347.2 273.9,345.4 274.2,346.8 274.5,343.5 274.7,341.5 275.0,341.0 275.3,344.8 275.5,345.2 275.8,344.9 276.1,341.2 276.3,340.9 276.6,339.1 276.9,339.3 277.1,343.9 277.4,340.1 277.7,346.8 277.9,343.9 278.2,345.2 278.5,342.4 278.7,340.9 279.0,342.7 279.3,344.1 279.5,341.7 279.8,343.9 280.1,344.5 280.3,346.6 280.6,343.5 280.9,341.8 281.1,340.8 281.4,344.0 281.6,341.6 281.9,341.2 282.2,348.3 282.4,344.3 282.7,342.5 283.0,344.3 283.2,339.8 283.5,346.9 283.8,338.3 284.0,341.7 284.3,344.9 284.6,344.5 284.8,343.5 285.1,345.2 285.4,346.7 285.6,343.1 285.9,340.4 286.2,345.1 286.4,342.2 286.7,342.7 287.0,340.4 287.2,346.4 287.5,341.3 287.8,345.1 288.0,343.7 288.3,343.7 288.5,344.3 288.8,340.4 289.1,342.3 289.3,343.3 289.6,344.2 289.9,340.6 290.1,342.5 290.4,340.6 290.7,339.2 290.9,342.0 291.2,342.7 291.5,345.2 291.7,340.7 292.0,339.8 292.3,343.9 292.5,344.4 292.8,338.9 293.1,343.2 293.3,342.6 293.6,343.5 293.9,342.3 294.1,342.6 294.4,341.8 294.7,347.2 294.9,343.8 295.2,343.7 295.5,345.2 295.7,345.0 296.0,341.3 296.2,344.7 296.5,342.3 296.8,340.3 297.0,342.5 297.3,347.9 297.6,338.3 297.8,345.4 298.1,340.9 298.4,345.1 298.6,342.8 298.9,344.6 299.2,346.1 299.4,345.6 299.7,346.5 300.0,346.8 300.2,343.5 300.5,343.0 300.8,340.6 301.0,342.7 301.3,342.0 301.6,345.1 301.8,342.5 302.1,347.2 302.4,344.0 302.6,343.8 302.9,347.3 303.1,346.9 303.4,343.5 303.7,343.1 303.9,348.0 304.2,343.8 304.5,344.8 304.7,343.5 305.0,342.4 305.3,345.3 305.5,345.1 305.8,341.5 306.1,339.2 306.3,346.9 306.6,339.7 306.9,343.1 307.1,342.2 307.4,345.4 307.7,342.6 307.9,342.3 308.2,343.9 308.5,342.9 308.7,341.0 309.0,341.6 309.3,339.1 309.5,344.7 309.8,339.9 310.1,342.0 310.3,343.4 310.6,346.3 310.8,343.0 311.1,344.4 311.4,343.3 311.6,346.9 311.9,342.2 312.2,341.7 312.4,342.1 312.7,340.8 313.0,342.8 313.2,345.0 313.5,346.2 313.8,344.7 314.0,341.8 314.3,346.5 314.6,344.8 314.8,343.6 315.1,344.1 315.4,344.1 315.6,335.5 315.9,343.5 316.2,340.6 316.4,344.5 316.7,342.7 317.0,340.7 317.2,344.6 317.5,347.3 317.7,342.5 318.0,341.4 318.3,341.7 318.5,343.5 318.8,347.4 319.1,344.6 319.3,342.0 319.6,343.6 319.9,344.4 320.1,342.1 320.4,344.9 320.7,340.6 320.9,349.7 321.2,342.5 321.5,343.4 321.7,344.0 322.0,344.5 322.3,342.0 322.5,342.1 322.8,347.1 323.1,342.5 323.3,343.4 323.6,344.0 323.9,340.2 324.1,344.4 324.4,345.3 324.7,346.8 324.9,337.0 325.2,337.6 325.4,344.3 325.7,342.0 326.0,340.8 326.2,341.3 326.5,346.6 326.8,342.1 327.0,344.4 327.3,341.5 327.6,343.2 327.8,344.3 328.1,345.0 328.4,343.0 328.6,345.2 328.9,346.2 329.2,339.3 329.4,342.8 329.7,344.8 330.0,344.0 330.2,341.9 330.5,344.2 330.8,346.0 331.0,339.4 331.3,344.3 331.6,343.1 331.8,344.5 332.1,338.4 332.3,341.0 332.6,344.0 332.9,338.1 333.1,341.8 333.4,341.0 333.7,343.4 333.9,343.4 334.2,339.6 334.5,340.2 334.7,338.6 335.0,346.2 335.3,349.4 335.5,344.2 335.8,341.1 336.1,338.7 336.3,345.4 336.6,350.9 336.9,340.9 337.1,341.2 337.4,342.8 337.7,345.4 337.9,344.9 338.2,342.4 338.5,341.1 338.7,344.6 339.0,346.5 339.3,339.6 339.5,339.6 339.8,347.4 340.0,341.6 340.3,343.9 340.6,344.6 340.8,342.7 341.1,344.7 341.4,341.9 341.6,347.3 341.9,343.8 342.2,345.7 342.4,341.9 342.7,345.4 343.0,344.0 343.2,343.8 343.5,340.6 343.8,342.5 344.0,340.6 344.3,340.6 344.6,339.1 344.8,342.6 345.1,343.1 345.4,345.8 345.6,339.5 345.9,342.6 346.2,342.5 346.4,346.0 346.7,343.5 346.9,344.3 347.2,345.2 347.5,339.7 347.7,344.0 348.0,338.6 348.3,342.9 348.5,343.9 348.8,344.0 349.1,338.9 349.3,343.4 349.6,340.4 349.9,340.6 350.1,340.6 350.4,344.4 350.7,341.7 350.9,344.7 351.2,340.2 351.5,344.8 351.7,342.3 352.0,341.6 352.3,339.8 352.5,344.5 352.8,343.8 353.1,342.0 353.3,342.6 353.6,340.2 353.9,346.7 354.1,343.5 354.4,344.6 354.6,343.0 354.9,342.9 355.2,338.9 355.4,338.4 355.7,344.9 356.0,339.8 356.2,337.2 356.5,346.0 356.8,340.9 357.0,340.7 357.3,340.9 357.6,340.9 357.8,344.8 358.1,341.2 358.4,342.2 358.6,345.8 358.9,340.6 359.2,341.7 359.4,340.8 359.7,340.4 360.0,343.1 360.2,338.6 360.5,339.7 360.8,345.8 361.0,342.9 361.3,344.5 361.5,344.2 361.8,345.2 362.1,340.9 362.3,341.8 362.6,343.2 362.9,348.9 363.1,341.8 363.4,343.3 363.7,340.8 363.9,347.4 364.2,343.6 364.5,342.2 364.7,340.6 365.0,341.5 365.3,343.3 365.5,345.8 365.8,339.5 366.1,343.1 366.3,341.4 366.6,337.8 366.9,344.8 367.1,346.0 367.4,338.9 367.7,341.7 367.9,338.8 368.2,344.3 368.4,341.2 368.7,346.4 369.0,345.0 369.2,341.6 369.5,341.6 369.8,339.8 370.0,342.0 370.3,340.0 370.6,338.0 370.8,342.4 371.1,343.4 371.4,343.1 371.6,338.1 371.9,344.3 372.2,339.7 372.4,345.5 372.7,339.0 373.0,345.7 373.2,342.4 373.5,340.3 373.8,345.0 374.0,343.0 374.3,344.3 374.6,342.0 374.8,344.7 375.1,342.9 375.4,338.8 375.6,344.9 375.9,343.4 376.1,337.6 376.4,349.8 376.7,344.9 376.9,343.4 377.2,344.0 377.5,341.3 377.7,339.6 378.0,344.1 378.3,345.0 378.5,343.3 378.8,339.9 379.1,342.3 379.3,343.2 379.6,338.5 379.9,337.7 380.1,344.3 380.4,340.4 380.7,342.8 380.9,343.9 381.2,340.6 381.5,343.5 381.7,342.9 382.0,344.4 382.3,343.4 382.5,339.3 382.8,342.5 383.0,346.2 383.3,344.8 383.6,338.4 383.8,339.5 384.1,341.3 384.4,340.5 384.6,344.8 384.9,341.5 385.2,338.9 385.4,343.4 385.7,341.7 386.0,345.1 386.2,341.3 386.5,341.7 386.8,345.7 387.0,342.1 387.3,337.2 387.6,342.0 387.8,346.4 388.1,344.8 388.4,341.7 388.6,344.4 388.9,340.8 389.2,345.8 389.4,347.8 389.7,338.5 390.0,345.5 390.2,344.0 390.5,342.9 390.7,345.2 391.0,340.4 391.3,341.4 391.5,340.3 391.8,342.3 392.1,340.8 392.3,342.0 392.6,345.6 392.9,342.6 393.1,342.9 393.4,343.5 393.7,341.8 393.9,343.4 394.2,340.9 394.5,343.3 394.7,348.2 395.0,339.0 395.3,340.6 395.5,339.6 395.8,339.5 396.1,343.5 396.3,341.1 396.6,342.6 396.9,340.9 397.1,340.0 397.4,348.2 397.6,338.4 397.9,346.4 398.2,345.2 398.4,339.9 398.7,343.5 399.0,338.3 399.2,340.4 399.5,344.2 399.8,343.3 400.0,343.3 400.3,340.0 400.6,339.4 400.8,345.8 401.1,345.7 401.4,346.4 401.6,344.4 401.9,345.6 402.2,338.5 402.4,343.2 402.7,346.4 403.0,344.0 403.2,341.0 403.5,339.4 403.8,345.0 404.0,341.5 404.3,336.9 404.6,339.9 404.8,344.5 405.1,340.9 405.3,342.2 405.6,349.8 405.9,342.5 406.1,344.3 406.4,341.4 406.7,342.0 406.9,345.7 407.2,339.6 407.5,342.1 407.7,340.9 408.0,342.3 408.3,345.9 408.5,343.8 408.8,343.0 409.1,340.4 409.3,341.7 409.6,340.3 409.9,341.5 410.1,343.8 410.4,340.3 410.7,341.2 410.9,338.8 411.2,337.2 411.5,342.1 411.7,337.4 412.0,344.9 412.2,344.6 412.5,340.3 412.8,344.9 413.0,341.5 413.3,345.0 413.6,341.5 413.8,343.7 414.1,337.8 414.4,345.8 414.6,340.9 414.9,339.6 415.2,338.4 415.4,339.2 415.7,341.5 416.0,339.4 416.2,339.6 416.5,342.2 416.8,346.0 417.0,338.5 417.3,342.5 417.6,349.0 417.8,343.9 418.1,341.4 418.4,342.5 418.6,343.0 418.9,346.6 419.2,344.6 419.4,348.4 419.7,342.6 419.9,338.2 420.2,345.5 420.5,343.6 420.7,343.2 421.0,342.8 421.3,340.5 421.5,340.2 421.8,344.7 422.1,340.9 422.3,343.6 422.6,343.6 422.9,342.7 423.1,338.4 423.4,343.6 423.7,339.3 423.9,343.5 424.2,345.2 424.5,342.5 424.7,343.5 425.0,341.3 425.3,341.6 425.5,342.3 425.8,339.0 426.1,344.8 426.3,342.0 426.6,342.0 426.8,342.2 427.1,337.2 427.4,341.9 427.6,342.7 427.9,341.9 428.2,343.3 428.4,338.9 428.7,341.8 429.0,343.3 429.2,337.3 429.5,342.2 429.8,340.8 430.0,343.5 430.3,341.0 430.6,339.0 430.8,340.4 431.1,342.8 431.4,344.4 431.6,337.2 431.9,342.4 432.2,341.5 432.4,340.1 432.7,344.7 433.0,338.2 433.2,339.2 433.5,342.9 433.8,342.6 434.0,335.0 434.3,339.9 434.5,339.4 434.8,341.5 435.1,344.4 435.3,341.5 435.6,338.7 435.9,342.5 436.1,346.7 436.4,340.4 436.7,344.3 436.9,346.8 437.2,339.3 437.5,342.5 437.7,340.8 438.0,340.7 438.3,341.7 438.5,341.5 438.8,352.1 439.1,342.2 439.3,345.1 439.6,339.4 439.9,343.3 440.1,345.1 440.4,344.4 440.7,343.5 440.9,339.7 441.2,344.4 441.4,341.5 441.7,342.6 442.0,344.2 442.2,341.7 442.5,340.4 442.8,345.5 443.0,339.1 443.3,341.9 443.6,343.5 443.8,336.9 444.1,345.8 444.4,341.0 444.6,342.5 444.9,343.0 445.2,340.9 445.4,342.4 445.7,351.8 446.0,342.3 446.2,344.6 446.5,343.8 446.8,341.7 447.0,344.3 447.3,344.9 447.6,340.8 447.8,342.6 448.1,350.9 448.4,342.3 448.6,337.6 448.9,343.2 449.1,339.8 449.4,344.2 449.7,343.3 449.9,341.3 450.2,343.6 450.5,343.1 450.7,341.0 451.0,347.2 451.3,341.7 451.5,344.5 451.8,337.4 452.1,352.2 452.3,344.7 452.6,342.9 452.9,344.2 453.1,343.4 453.4,340.9 453.7,342.1 453.9,347.7 454.2,343.8 454.5,338.1 454.7,341.7 455.0,340.6 455.3,344.8 455.5,344.1 455.8,347.3 456.0,343.3 456.3,345.1 456.6,342.4 456.8,344.9 457.1,347.2 457.4,341.9 457.6,341.4 457.9,346.1 458.2,341.0 458.4,340.7 458.7,343.8 459.0,343.8 459.2,341.9 459.5,340.7 459.8,345.0 460.0,339.2 460.3,345.2 460.6,345.1 460.8,338.7 461.1,345.3 461.4,347.4 461.6,342.4 461.9,342.9 462.2,339.5 462.4,344.0 462.7,342.3 463.0,345.9 463.2,345.3 463.5,345.4 463.7,343.5 464.0,342.9 464.3,345.8 464.5,337.0 464.8,344.9 465.1,342.2 465.3,341.0 465.6,340.0 465.9,340.0 466.1,338.5 466.4,338.9 466.7,345.0 466.9,335.3 467.2,345.0 467.5,341.1 467.7,355.3 468.0,340.1 468.3,340.2 468.5,343.2 468.8,341.7 469.1,338.5 469.3,340.7 469.6,344.9 469.9,342.9 470.1,344.0 470.4,340.8 470.6,347.3 470.9,342.1 471.2,347.3 471.4,341.3 471.7,337.9 472.0,343.5 472.2,339.7 472.5,344.4 472.8,339.6 473.0,344.2 473.3,345.7 473.6,343.9 473.8,348.0 474.1,347.5 474.4,339.6 474.6,339.0 474.9,339.9 475.2,343.8 475.4,344.0 475.7,343.8 476.0,345.6 476.2,346.9 476.5,345.1 476.8,340.8 477.0,344.7 477.3,342.1 477.5,342.7 477.8,345.8 478.1,342.7 478.3,343.9 478.6,344.3 478.9,343.2 479.1,342.6 479.4,341.3 479.7,345.7 479.9,347.9 480.2,341.1 480.5,342.5 480.7,342.6 481.0,340.9 481.3,344.0 481.5,337.0 481.8,342.1 482.1,343.7 482.3,341.8 482.6,347.3 482.9,340.5 483.1,338.7 483.4,344.2 483.7,343.1 483.9,344.9 484.2,343.9 484.5,343.8 484.7,339.9 485.0,340.0 485.2,342.6 485.5,339.5 485.8,341.2 486.0,340.4 486.3,343.4 486.6,341.4 486.8,343.8 487.1,342.7 487.4,342.8 487.6,345.2 487.9,342.9 488.2,341.7 488.4,344.3 488.7,341.6 489.0,342.0 489.2,341.7 489.5,340.0 489.8,342.3 490.0,338.7 490.3,341.9 490.6,339.8 490.8,342.0 491.1,343.2 491.4,342.9 491.6,341.6 491.9,345.7 492.1,342.1 492.4,345.1 492.7,342.8 492.9,341.0 493.2,341.7 493.5,342.2 493.7,342.0 494.0,341.2 494.3,343.3 494.5,343.0 494.8,343.7 495.1,340.3 495.3,342.8 495.6,347.4 495.9,340.0 496.1,342.5 496.4,339.4 496.7,346.9 496.9,344.4 497.2,340.8 497.5,343.0 497.7,341.4 498.0,341.8 498.3,342.8 498.5,345.3 498.8,341.5 499.1,343.4 499.3,341.7 499.6,342.8 499.8,340.5 500.1,339.5 500.4,348.6 500.6,339.2 500.9,336.7 501.2,346.3" fill="none" stroke="#2ca02c" stroke-width="2.78" stroke-linejoin="round" stroke-linecap="square"/>
</g>
<path d="M103.00 451.45 v5.4 M156.09 451.45 v5.4 M209.18 451.45 v5.4 M262.27 451.45 v5.4 M315.36 451.45 v5.4 M368.45 451.45 v5.4 M421.54 451.45 v5.4 M474.63 451.45 v5.4 M83.35 417.24 h-5.8 M83.35 360.07 h-5.8 M83.35 302.90 h-5.8 M83.35 245.73 h-5.8 M83.35 188.56 h-5.8 M83.35 131.39 h-5.8 M83.35 74.22 h-5.8 M83.35 17.05 h-5.8" stroke="#000" stroke-width="1.2" fill="none"/>
<rect x="83.35" y="17.05" width="437.65" height="434.4" fill="none" stroke="#000" stroke-width="1.25" stroke-linejoin="miter"/>
<text class="tk" x="103.00" y="474.3" font-size="15.6" text-anchor="middle" textLength="24.8" lengthAdjust="spacingAndGlyphs">0.0</text>
<text class="tk" x="156.09" y="474.3" font-size="15.6" text-anchor="middle" textLength="24.8" lengthAdjust="spacingAndGlyphs">0.2</text>
<text class="tk" x="209.18" y="474.3" font-size="15.6" text-anchor="middle" textLength="24.8" lengthAdjust="spacingAndGlyphs">0.4</text>
<text class="tk" x="262.27" y="474.3" font-size="15.6" text-anchor="middle" textLength="24.8" lengthAdjust="spacingAndGlyphs">0.6</text>
<text class="tk" x="315.36" y="474.3" font-size="15.6" text-anchor="middle" textLength="24.8" lengthAdjust="spacingAndGlyphs">0.8</text>
<text class="tk" x="368.45" y="474.3" font-size="15.6" text-anchor="middle" textLength="24.8" lengthAdjust="spacingAndGlyphs">1.0</text>
<text class="tk" x="421.54" y="474.3" font-size="15.6" text-anchor="middle" textLength="24.8" lengthAdjust="spacingAndGlyphs">1.2</text>
<text class="tk" x="474.63" y="474.3" font-size="15.6" text-anchor="middle" textLength="24.8" lengthAdjust="spacingAndGlyphs">1.4</text>
<text class="tk" x="72.4" y="422.84" font-size="15.6" text-anchor="end" textLength="35.4" lengthAdjust="spacingAndGlyphs">17.5</text>
<text class="tk" x="72.4" y="365.67" font-size="15.6" text-anchor="end" textLength="35.4" lengthAdjust="spacingAndGlyphs">20.0</text>
<text class="tk" x="72.4" y="308.50" font-size="15.6" text-anchor="end" textLength="35.4" lengthAdjust="spacingAndGlyphs">22.5</text>
<text class="tk" x="72.4" y="251.33" font-size="15.6" text-anchor="end" textLength="35.4" lengthAdjust="spacingAndGlyphs">25.0</text>
<text class="tk" x="72.4" y="194.16" font-size="15.6" text-anchor="end" textLength="35.4" lengthAdjust="spacingAndGlyphs">27.5</text>
<text class="tk" x="72.4" y="136.99" font-size="15.6" text-anchor="end" textLength="35.4" lengthAdjust="spacingAndGlyphs">30.0</text>
<text class="tk" x="72.4" y="79.82" font-size="15.6" text-anchor="end" textLength="35.4" lengthAdjust="spacingAndGlyphs">32.5</text>
<text class="tk" x="72.4" y="22.65" font-size="15.6" text-anchor="end" textLength="35.4" lengthAdjust="spacingAndGlyphs">35.0</text>
<text class="tk" x="521.0" y="494.6" font-size="15.6" text-anchor="end" textLength="29.8" lengthAdjust="spacingAndGlyphs">1e5</text>
<text x="301.9" y="499.3" font-size="21.2" text-anchor="middle" textLength="98.2" lengthAdjust="spacingAndGlyphs">Iterations</text>
<text transform="translate(27.4 233.3) rotate(-90)" font-size="21.2" text-anchor="middle" textLength="54.7" lengthAdjust="spacingAndGlyphs">PSNR</text>
<rect x="93.3" y="27.1" width="152.10000000000002" height="128.20000000000002" rx="4.2" ry="4.2" fill="#fff" fill-opacity="0.8" stroke="#ccc" stroke-opacity="0.8" stroke-width="1.11"/>
<path d="M101.5 44.4 H142.5" stroke="#d62728" stroke-width="2.78" stroke-linecap="square"/>
<text x="158.8" y="50.4" font-size="21.2" font-style="italic" textLength="11.7" lengthAdjust="spacingAndGlyphs">α</text>
<text x="173.2" y="50.4" font-size="21.2" textLength="14.0" lengthAdjust="spacingAndGlyphs">=</text>
<text x="189.2" y="50.4" font-size="21.2" textLength="23.2" lengthAdjust="spacingAndGlyphs">10</text>
<text x="214.4" y="44.00" font-size="14.84" textLength="11.6" lengthAdjust="spacingAndGlyphs">−</text>
<text x="226.4" y="42.50" font-size="14.84" textLength="9.8" lengthAdjust="spacingAndGlyphs">5</text>
<path d="M101.5 74.9 H142.5" stroke="#1f77b4" stroke-width="2.78" stroke-linecap="square"/>
<text x="158.8" y="81.0" font-size="21.2" font-style="italic" textLength="11.7" lengthAdjust="spacingAndGlyphs">α</text>
<text x="173.2" y="81.0" font-size="21.2" textLength="14.0" lengthAdjust="spacingAndGlyphs">=</text>
<text x="189.2" y="81.0" font-size="21.2" textLength="23.2" lengthAdjust="spacingAndGlyphs">10</text>
<text x="214.4" y="74.60" font-size="14.84" textLength="11.6" lengthAdjust="spacingAndGlyphs">−</text>
<text x="226.4" y="73.10" font-size="14.84" textLength="9.8" lengthAdjust="spacingAndGlyphs">4</text>
<path d="M101.5 105.5 H142.5" stroke="#ff7f0e" stroke-width="2.78" stroke-linecap="square"/>
<text x="158.8" y="111.6" font-size="21.2" font-style="italic" textLength="11.7" lengthAdjust="spacingAndGlyphs">α</text>
<text x="173.2" y="111.6" font-size="21.2" textLength="14.0" lengthAdjust="spacingAndGlyphs">=</text>
<text x="189.2" y="111.6" font-size="21.2" textLength="23.2" lengthAdjust="spacingAndGlyphs">10</text>
<text x="214.4" y="105.20" font-size="14.84" textLength="11.6" lengthAdjust="spacingAndGlyphs">−</text>
<text x="226.4" y="103.70" font-size="14.84" textLength="9.8" lengthAdjust="spacingAndGlyphs">3</text>
<path d="M101.5 136.1 H142.5" stroke="#2ca02c" stroke-width="2.78" stroke-linecap="square"/>
<text x="158.8" y="142.2" font-size="21.2" font-style="italic" textLength="11.7" lengthAdjust="spacingAndGlyphs">α</text>
<text x="173.2" y="142.2" font-size="21.2" textLength="14.0" lengthAdjust="spacingAndGlyphs">=</text>
<text x="189.2" y="142.2" font-size="21.2" textLength="23.2" lengthAdjust="spacingAndGlyphs">10</text>
<text x="214.4" y="135.80" font-size="14.84" textLength="11.6" lengthAdjust="spacingAndGlyphs">−</text>
<text x="226.4" y="134.30" font-size="14.84" textLength="9.8" lengthAdjust="spacingAndGlyphs">2</text>
</svg>
</body></html>
